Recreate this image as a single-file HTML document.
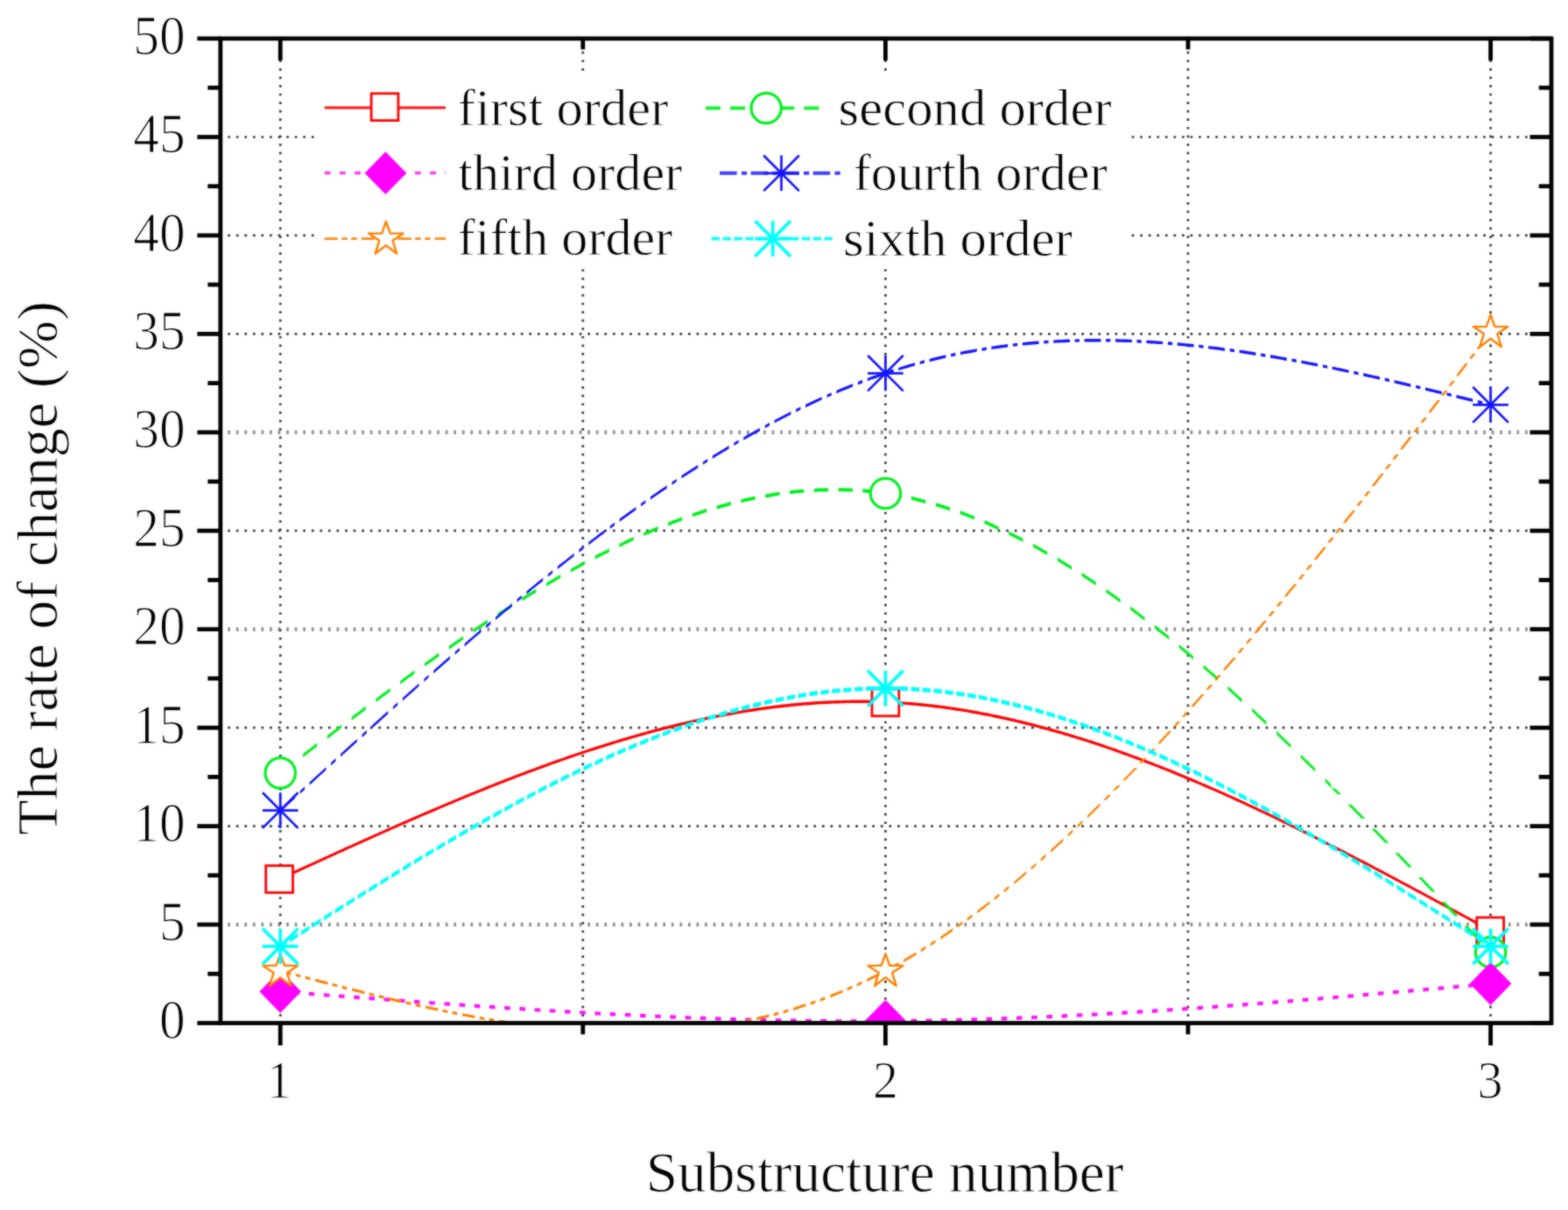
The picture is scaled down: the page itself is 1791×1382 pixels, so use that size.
<!DOCTYPE html>
<html><head><meta charset="utf-8"><title>The rate of change vs substructure number</title>
<style>
html,body{margin:0;padding:0;background:#fff;}
body{width:1791px;height:1382px;overflow:hidden;}
svg{display:block;}
text{font-family:"Liberation Serif","Times New Roman",serif;fill:#000;stroke:#fff;stroke-width:0.9px;stroke-linejoin:round;}
.tk{stroke-width:1.2px;}
</style></head><body>
<svg width="1791" height="1382" viewBox="0 0 1791 1382">
<defs><clipPath id="plot"><rect x="251.8" y="44.0" width="1520.2" height="1124.5"/></clipPath>
<filter id="soft" color-interpolation-filters="sRGB" x="0" y="0" width="1791" height="1382" filterUnits="userSpaceOnUse"><feGaussianBlur in="SourceGraphic" stdDeviation="0.9" result="b"/><feComposite in="SourceGraphic" in2="b" operator="arithmetic" k1="0" k2="0.45" k3="0.55" k4="0"/></filter></defs>
<g filter="url(#soft)">
<rect x="-10" y="-10" width="1811" height="1402" fill="#fff"/>

<g stroke="#3a3a3a" stroke-width="2.7" stroke-dasharray="2.7 6.86" fill="none">
<line x1="260.2" y1="1056.0" x2="1772.0" y2="1056.0" stroke="#8c8c8c" stroke-width="4.6"/>
<line x1="260.2" y1="943.6" x2="1772.0" y2="943.6"/>
<line x1="260.2" y1="831.2" x2="1772.0" y2="831.2"/>
<line x1="260.2" y1="718.7" x2="1772.0" y2="718.7" stroke="#8c8c8c" stroke-width="4.6"/>
<line x1="260.2" y1="606.2" x2="1772.0" y2="606.2"/>
<line x1="260.2" y1="493.8" x2="1772.0" y2="493.8" stroke="#8c8c8c" stroke-width="4.6"/>
<line x1="260.2" y1="381.4" x2="1772.0" y2="381.4"/>
<line x1="260.2" y1="268.9" x2="1772.0" y2="268.9"/>
<line x1="260.2" y1="156.5" x2="1772.0" y2="156.5"/>
<line x1="320.2" y1="49.3" x2="320.2" y2="1168.5"/>
<line x1="665.8" y1="49.3" x2="665.8" y2="1168.5"/>
<line x1="1011.4" y1="49.3" x2="1011.4" y2="1168.5"/>
<line x1="1357.0" y1="49.3" x2="1357.0" y2="1168.5"/>
<line x1="1702.6" y1="49.3" x2="1702.6" y2="1168.5"/>
</g>
<g clip-path="url(#plot)">
<path d="M320.2 1001.9L323.2 1000.6L326.2 999.2L329.2 997.8L332.2 996.4L335.2 995.0L338.2 993.7L341.2 992.3L344.2 990.9L347.2 989.5L350.3 988.2L353.3 986.8L356.3 985.4L359.3 984.0L362.3 982.7L365.3 981.3L368.3 979.9L371.3 978.5L374.3 977.2L377.3 975.8L380.3 974.4L383.3 973.1L386.3 971.7L389.3 970.3L392.3 969.0L395.3 967.6L398.3 966.2L401.3 964.9L404.3 963.5L407.4 962.2L410.4 960.8L413.4 959.5L416.4 958.1L419.4 956.8L422.4 955.4L425.4 954.1L428.4 952.7L431.4 951.4L434.4 950.0L437.4 948.7L440.4 947.4L443.4 946.0L446.4 944.7L449.4 943.4L452.4 942.0L455.4 940.7L458.4 939.4L461.4 938.1L464.5 936.8L467.5 935.4L470.5 934.1L473.5 932.8L476.5 931.5L479.5 930.2L482.5 928.9L485.5 927.6L488.5 926.3L491.5 925.1L494.5 923.8L497.5 922.5L500.5 921.2L503.5 919.9L506.5 918.7L509.5 917.4L512.5 916.1L515.5 914.9L518.5 913.6L521.5 912.4L524.6 911.1L527.6 909.9L530.6 908.6L533.6 907.4L536.6 906.1L539.6 904.9L542.6 903.7L545.6 902.5L548.6 901.2L551.6 900.0L554.6 898.8L557.6 897.6L560.6 896.4L563.6 895.2L566.6 894.0L569.6 892.8L572.6 891.7L575.6 890.5L578.6 889.3L581.7 888.2L584.7 887.0L587.7 885.8L590.7 884.7L593.7 883.5L596.7 882.4L599.7 881.3L602.7 880.1L605.7 879.0L608.7 877.9L611.7 876.8L614.7 875.7L617.7 874.6L620.7 873.5L623.7 872.4L626.7 871.3L629.7 870.2L632.7 869.1L635.7 868.1L638.8 867.0L641.8 865.9L644.8 864.9L647.8 863.8L650.8 862.8L653.8 861.8L656.8 860.7L659.8 859.7L662.8 858.7L665.8 857.7L668.8 856.7L671.8 855.7L674.8 854.7L677.8 853.8L680.8 852.8L683.8 851.8L686.8 850.9L689.8 849.9L692.8 849.0L695.9 848.0L698.9 847.1L701.9 846.2L704.9 845.2L707.9 844.3L710.9 843.4L713.9 842.5L716.9 841.7L719.9 840.8L722.9 839.9L725.9 839.0L728.9 838.2L731.9 837.3L734.9 836.5L737.9 835.7L740.9 834.8L743.9 834.0L746.9 833.2L749.9 832.4L753.0 831.6L756.0 830.8L759.0 830.1L762.0 829.3L765.0 828.5L768.0 827.8L771.0 827.0L774.0 826.3L777.0 825.6L780.0 824.9L783.0 824.2L786.0 823.5L789.0 822.8L792.0 822.1L795.0 821.4L798.0 820.7L801.0 820.1L804.0 819.4L807.0 818.8L810.1 818.2L813.1 817.6L816.1 817.0L819.1 816.4L822.1 815.8L825.1 815.2L828.1 814.6L831.1 814.1L834.1 813.5L837.1 813.0L840.1 812.4L843.1 811.9L846.1 811.4L849.1 810.9L852.1 810.4L855.1 809.9L858.1 809.5L861.1 809.0L864.1 808.5L867.1 808.1L870.2 807.7L873.2 807.3L876.2 806.8L879.2 806.4L882.2 806.1L885.2 805.7L888.2 805.3L891.2 805.0L894.2 804.6L897.2 804.3L900.2 804.0L903.2 803.6L906.2 803.3L909.2 803.0L912.2 802.8L915.2 802.5L918.2 802.2L921.2 802.0L924.2 801.8L927.3 801.5L930.3 801.3L933.3 801.1L936.3 800.9L939.3 800.8L942.3 800.6L945.3 800.5L948.3 800.3L951.3 800.2L954.3 800.1L957.3 800.0L960.3 799.9L963.3 799.8L966.3 799.7L969.3 799.7L972.3 799.6L975.3 799.6L978.3 799.6L981.3 799.6L984.4 799.6L987.4 799.6L990.4 799.6L993.4 799.7L996.4 799.7L999.4 799.8L1002.4 799.9L1005.4 800.0L1008.4 800.1L1011.4 800.2L1014.4 800.3L1017.4 800.5L1020.4 800.7L1023.4 800.8L1026.4 801.0L1029.4 801.2L1032.4 801.4L1035.4 801.7L1038.4 801.9L1041.5 802.1L1044.5 802.4L1047.5 802.7L1050.5 803.0L1053.5 803.3L1056.5 803.6L1059.5 803.9L1062.5 804.2L1065.5 804.6L1068.5 805.0L1071.5 805.3L1074.5 805.7L1077.5 806.1L1080.5 806.5L1083.5 806.9L1086.5 807.4L1089.5 807.8L1092.5 808.3L1095.5 808.7L1098.6 809.2L1101.6 809.7L1104.6 810.2L1107.6 810.7L1110.6 811.3L1113.6 811.8L1116.6 812.3L1119.6 812.9L1122.6 813.5L1125.6 814.0L1128.6 814.6L1131.6 815.2L1134.6 815.9L1137.6 816.5L1140.6 817.1L1143.6 817.8L1146.6 818.4L1149.6 819.1L1152.6 819.8L1155.7 820.4L1158.7 821.1L1161.7 821.9L1164.7 822.6L1167.7 823.3L1170.7 824.0L1173.7 824.8L1176.7 825.5L1179.7 826.3L1182.7 827.1L1185.7 827.9L1188.7 828.7L1191.7 829.5L1194.7 830.3L1197.7 831.1L1200.7 832.0L1203.7 832.8L1206.7 833.7L1209.7 834.5L1212.7 835.4L1215.8 836.3L1218.8 837.2L1221.8 838.1L1224.8 839.0L1227.8 839.9L1230.8 840.9L1233.8 841.8L1236.8 842.7L1239.8 843.7L1242.8 844.7L1245.8 845.6L1248.8 846.6L1251.8 847.6L1254.8 848.6L1257.8 849.6L1260.8 850.6L1263.8 851.7L1266.8 852.7L1269.8 853.7L1272.9 854.8L1275.9 855.8L1278.9 856.9L1281.9 858.0L1284.9 859.1L1287.9 860.2L1290.9 861.3L1293.9 862.4L1296.9 863.5L1299.9 864.6L1302.9 865.7L1305.9 866.9L1308.9 868.0L1311.9 869.2L1314.9 870.3L1317.9 871.5L1320.9 872.7L1323.9 873.8L1326.9 875.0L1330.0 876.2L1333.0 877.4L1336.0 878.6L1339.0 879.8L1342.0 881.1L1345.0 882.3L1348.0 883.5L1351.0 884.8L1354.0 886.0L1357.0 887.3L1360.0 888.5L1363.0 889.8L1366.0 891.1L1369.0 892.4L1372.0 893.7L1375.0 895.0L1378.0 896.3L1381.0 897.6L1384.0 898.9L1387.1 900.2L1390.1 901.5L1393.1 902.9L1396.1 904.2L1399.1 905.5L1402.1 906.9L1405.1 908.2L1408.1 909.6L1411.1 911.0L1414.1 912.3L1417.1 913.7L1420.1 915.1L1423.1 916.5L1426.1 917.9L1429.1 919.3L1432.1 920.7L1435.1 922.1L1438.1 923.5L1441.1 924.9L1444.2 926.4L1447.2 927.8L1450.2 929.2L1453.2 930.7L1456.2 932.1L1459.2 933.5L1462.2 935.0L1465.2 936.5L1468.2 937.9L1471.2 939.4L1474.2 940.8L1477.2 942.3L1480.2 943.8L1483.2 945.3L1486.2 946.8L1489.2 948.3L1492.2 949.8L1495.2 951.3L1498.2 952.8L1501.3 954.3L1504.3 955.8L1507.3 957.3L1510.3 958.8L1513.3 960.3L1516.3 961.9L1519.3 963.4L1522.3 964.9L1525.3 966.5L1528.3 968.0L1531.3 969.5L1534.3 971.1L1537.3 972.6L1540.3 974.2L1543.3 975.7L1546.3 977.3L1549.3 978.9L1552.3 980.4L1555.3 982.0L1558.3 983.6L1561.4 985.1L1564.4 986.7L1567.4 988.3L1570.4 989.9L1573.4 991.5L1576.4 993.0L1579.4 994.6L1582.4 996.2L1585.4 997.8L1588.4 999.4L1591.4 1001.0L1594.4 1002.6L1597.4 1004.2L1600.4 1005.8L1603.4 1007.4L1606.4 1009.0L1609.4 1010.6L1612.4 1012.2L1615.4 1013.9L1618.5 1015.5L1621.5 1017.1L1624.5 1018.7L1627.5 1020.3L1630.5 1021.9L1633.5 1023.6L1636.5 1025.2L1639.5 1026.8L1642.5 1028.4L1645.5 1030.1L1648.5 1031.7L1651.5 1033.3L1654.5 1034.9L1657.5 1036.6L1660.5 1038.2L1663.5 1039.8L1666.5 1041.5L1669.5 1043.1L1672.5 1044.7L1675.6 1046.4L1678.6 1048.0L1681.6 1049.6L1684.6 1051.3L1687.6 1052.9L1690.6 1054.5L1693.6 1056.2L1696.6 1057.8L1699.6 1059.5L1702.6 1061.1L1702.6 1064.5L1699.6 1062.9L1696.6 1061.2L1693.6 1059.6L1690.6 1057.9L1687.6 1056.3L1684.6 1054.7L1681.6 1053.0L1678.6 1051.4L1675.6 1049.8L1672.5 1048.1L1669.5 1046.5L1666.5 1044.9L1663.5 1043.2L1660.5 1041.6L1657.5 1040.0L1654.5 1038.3L1651.5 1036.7L1648.5 1035.1L1645.5 1033.5L1642.5 1031.8L1639.5 1030.2L1636.5 1028.6L1633.5 1027.0L1630.5 1025.3L1627.5 1023.7L1624.5 1022.1L1621.5 1020.5L1618.5 1018.9L1615.4 1017.3L1612.4 1015.6L1609.4 1014.0L1606.4 1012.4L1603.4 1010.8L1600.4 1009.2L1597.4 1007.6L1594.4 1006.0L1591.4 1004.4L1588.4 1002.8L1585.4 1001.2L1582.4 999.6L1579.4 998.0L1576.4 996.4L1573.4 994.9L1570.4 993.3L1567.4 991.7L1564.4 990.1L1561.4 988.5L1558.3 987.0L1555.3 985.4L1552.3 983.8L1549.3 982.3L1546.3 980.7L1543.3 979.1L1540.3 977.6L1537.3 976.0L1534.3 974.5L1531.3 972.9L1528.3 971.4L1525.3 969.9L1522.3 968.3L1519.3 966.8L1516.3 965.3L1513.3 963.7L1510.3 962.2L1507.3 960.7L1504.3 959.2L1501.3 957.7L1498.2 956.2L1495.2 954.7L1492.2 953.2L1489.2 951.7L1486.2 950.2L1483.2 948.7L1480.2 947.2L1477.2 945.7L1474.2 944.2L1471.2 942.8L1468.2 941.3L1465.2 939.9L1462.2 938.4L1459.2 936.9L1456.2 935.5L1453.2 934.1L1450.2 932.6L1447.2 931.2L1444.2 929.8L1441.1 928.3L1438.1 926.9L1435.1 925.5L1432.1 924.1L1429.1 922.7L1426.1 921.3L1423.1 919.9L1420.1 918.5L1417.1 917.1L1414.1 915.7L1411.1 914.4L1408.1 913.0L1405.1 911.6L1402.1 910.3L1399.1 908.9L1396.1 907.6L1393.1 906.3L1390.1 904.9L1387.1 903.6L1384.0 902.3L1381.0 901.0L1378.0 899.7L1375.0 898.4L1372.0 897.1L1369.0 895.8L1366.0 894.5L1363.0 893.2L1360.0 891.9L1357.0 890.7L1354.0 889.4L1351.0 888.2L1348.0 886.9L1345.0 885.7L1342.0 884.5L1339.0 883.2L1336.0 882.0L1333.0 880.8L1330.0 879.6L1326.9 878.4L1323.9 877.2L1320.9 876.1L1317.9 874.9L1314.9 873.7L1311.9 872.6L1308.9 871.4L1305.9 870.3L1302.9 869.1L1299.9 868.0L1296.9 866.9L1293.9 865.8L1290.9 864.7L1287.9 863.6L1284.9 862.5L1281.9 861.4L1278.9 860.3L1275.9 859.2L1272.9 858.2L1269.8 857.1L1266.8 856.1L1263.8 855.1L1260.8 854.0L1257.8 853.0L1254.8 852.0L1251.8 851.0L1248.8 850.0L1245.8 849.0L1242.8 848.1L1239.8 847.1L1236.8 846.1L1233.8 845.2L1230.8 844.3L1227.8 843.3L1224.8 842.4L1221.8 841.5L1218.8 840.6L1215.8 839.7L1212.7 838.8L1209.7 837.9L1206.7 837.1L1203.7 836.2L1200.7 835.4L1197.7 834.5L1194.7 833.7L1191.7 832.9L1188.7 832.1L1185.7 831.3L1182.7 830.5L1179.7 829.7L1176.7 828.9L1173.7 828.2L1170.7 827.4L1167.7 826.7L1164.7 826.0L1161.7 825.3L1158.7 824.5L1155.7 823.8L1152.6 823.2L1149.6 822.5L1146.6 821.8L1143.6 821.2L1140.6 820.5L1137.6 819.9L1134.6 819.3L1131.6 818.6L1128.6 818.0L1125.6 817.4L1122.6 816.9L1119.6 816.3L1116.6 815.7L1113.6 815.2L1110.6 814.7L1107.6 814.1L1104.6 813.6L1101.6 813.1L1098.6 812.6L1095.5 812.1L1092.5 811.7L1089.5 811.2L1086.5 810.8L1083.5 810.3L1080.5 809.9L1077.5 809.5L1074.5 809.1L1071.5 808.7L1068.5 808.4L1065.5 808.0L1062.5 807.6L1059.5 807.3L1056.5 807.0L1053.5 806.7L1050.5 806.4L1047.5 806.1L1044.5 805.8L1041.5 805.5L1038.4 805.3L1035.4 805.1L1032.4 804.8L1029.4 804.6L1026.4 804.4L1023.4 804.2L1020.4 804.1L1017.4 803.9L1014.4 803.7L1011.4 803.6L1008.4 803.5L1005.4 803.4L1002.4 803.3L999.4 803.2L996.4 803.1L993.4 803.1L990.4 803.0L987.4 803.0L984.4 803.0L981.3 803.0L978.3 803.0L975.3 803.0L972.3 803.0L969.3 803.1L966.3 803.1L963.3 803.2L960.3 803.3L957.3 803.4L954.3 803.5L951.3 803.6L948.3 803.7L945.3 803.9L942.3 804.0L939.3 804.2L936.3 804.3L933.3 804.5L930.3 804.7L927.3 804.9L924.2 805.2L921.2 805.4L918.2 805.6L915.2 805.9L912.2 806.2L909.2 806.4L906.2 806.7L903.2 807.0L900.2 807.4L897.2 807.7L894.2 808.0L891.2 808.4L888.2 808.7L885.2 809.1L882.2 809.5L879.2 809.8L876.2 810.2L873.2 810.7L870.2 811.1L867.1 811.5L864.1 811.9L861.1 812.4L858.1 812.9L855.1 813.3L852.1 813.8L849.1 814.3L846.1 814.8L843.1 815.3L840.1 815.8L837.1 816.4L834.1 816.9L831.1 817.5L828.1 818.0L825.1 818.6L822.1 819.2L819.1 819.8L816.1 820.4L813.1 821.0L810.1 821.6L807.0 822.2L804.0 822.8L801.0 823.5L798.0 824.1L795.0 824.8L792.0 825.5L789.0 826.2L786.0 826.9L783.0 827.6L780.0 828.3L777.0 829.0L774.0 829.7L771.0 830.4L768.0 831.2L765.0 831.9L762.0 832.7L759.0 833.5L756.0 834.2L753.0 835.0L749.9 835.8L746.9 836.6L743.9 837.4L740.9 838.2L737.9 839.1L734.9 839.9L731.9 840.7L728.9 841.6L725.9 842.4L722.9 843.3L719.9 844.2L716.9 845.1L713.9 845.9L710.9 846.8L707.9 847.7L704.9 848.6L701.9 849.6L698.9 850.5L695.9 851.4L692.8 852.4L689.8 853.3L686.8 854.3L683.8 855.2L680.8 856.2L677.8 857.2L674.8 858.1L671.8 859.1L668.8 860.1L665.8 861.1L662.8 862.1L659.8 863.1L656.8 864.1L653.8 865.2L650.8 866.2L647.8 867.2L644.8 868.3L641.8 869.3L638.8 870.4L635.7 871.5L632.7 872.5L629.7 873.6L626.7 874.7L623.7 875.8L620.7 876.9L617.7 878.0L614.7 879.1L611.7 880.2L608.7 881.3L605.7 882.4L602.7 883.5L599.7 884.7L596.7 885.8L593.7 886.9L590.7 888.1L587.7 889.2L584.7 890.4L581.7 891.6L578.6 892.7L575.6 893.9L572.6 895.1L569.6 896.2L566.6 897.4L563.6 898.6L560.6 899.8L557.6 901.0L554.6 902.2L551.6 903.4L548.6 904.6L545.6 905.9L542.6 907.1L539.6 908.3L536.6 909.5L533.6 910.8L530.6 912.0L527.6 913.3L524.6 914.5L521.5 915.8L518.5 917.0L515.5 918.3L512.5 919.5L509.5 920.8L506.5 922.1L503.5 923.3L500.5 924.6L497.5 925.9L494.5 927.2L491.5 928.5L488.5 929.7L485.5 931.0L482.5 932.3L479.5 933.6L476.5 934.9L473.5 936.2L470.5 937.5L467.5 938.8L464.5 940.2L461.4 941.5L458.4 942.8L455.4 944.1L452.4 945.4L449.4 946.8L446.4 948.1L443.4 949.4L440.4 950.8L437.4 952.1L434.4 953.4L431.4 954.8L428.4 956.1L425.4 957.5L422.4 958.8L419.4 960.2L416.4 961.5L413.4 962.9L410.4 964.2L407.4 965.6L404.3 966.9L401.3 968.3L398.3 969.6L395.3 971.0L392.3 972.4L389.3 973.7L386.3 975.1L383.3 976.5L380.3 977.8L377.3 979.2L374.3 980.6L371.3 981.9L368.3 983.3L365.3 984.7L362.3 986.1L359.3 987.4L356.3 988.8L353.3 990.2L350.3 991.6L347.2 992.9L344.2 994.3L341.2 995.7L338.2 997.1L335.2 998.4L332.2 999.8L329.2 1001.2L326.2 1002.6L323.2 1004.0L320.2 1005.3Z" fill="#ff0000"/>
<rect x="303.7" y="988.7" width="30.8" height="30.8" fill="#fff" stroke="#ff0000" stroke-width="2.8"/>
<rect x="996.0" y="787.0" width="30.8" height="30.8" fill="#fff" stroke="#ff0000" stroke-width="2.8"/>
<rect x="1686.8" y="1047.9" width="30.8" height="30.8" fill="#fff" stroke="#ff0000" stroke-width="2.8"/>
<path d="M320.2 880.9L323.8 878.1L327.3 875.4L330.9 872.7L334.5 869.9L334.5 873.9L330.9 876.7L327.3 879.4L323.8 882.1L320.2 884.9ZM346.0 861.1L349.3 858.6L352.5 856.1L355.8 853.6L359.0 851.1L362.3 848.6L362.3 852.6L359.0 855.1L355.8 857.6L352.5 860.1L349.3 862.6L346.0 865.1ZM373.8 839.9L377.1 837.4L380.3 834.9L383.6 832.4L386.8 829.9L390.1 827.5L390.1 831.5L386.8 833.9L383.6 836.4L380.3 838.9L377.1 841.4L373.8 843.9ZM401.6 818.8L404.9 816.3L408.1 813.9L411.4 811.4L414.6 809.0L417.9 806.5L417.9 810.5L414.6 813.0L411.4 815.4L408.1 817.9L404.9 820.3L401.6 822.8ZM429.4 797.9L432.7 795.5L435.9 793.1L439.2 790.7L442.4 788.3L445.7 785.9L445.7 789.9L442.4 792.3L439.2 794.7L435.9 797.1L432.7 799.5L429.4 801.9ZM457.2 777.4L460.5 775.0L463.7 772.7L467.0 770.3L470.2 767.9L473.5 765.6L473.5 769.6L470.2 771.9L467.0 774.3L463.7 776.7L460.5 779.0L457.2 781.4ZM485.0 757.3L488.3 755.0L491.5 752.7L494.8 750.4L498.0 748.1L501.3 745.8L501.3 749.8L498.0 752.1L494.8 754.4L491.5 756.7L488.3 759.0L485.0 761.3ZM512.8 737.7L516.1 735.4L519.3 733.2L522.6 730.9L525.8 728.7L529.1 726.5L529.1 730.5L525.8 732.7L522.6 734.9L519.3 737.2L516.1 739.4L512.8 741.7ZM540.6 718.6L543.9 716.5L547.1 714.3L550.4 712.1L553.6 709.9L556.9 707.8L556.9 711.8L553.6 713.9L550.4 716.1L547.1 718.3L543.9 720.5L540.6 722.6ZM568.4 700.3L571.7 698.1L574.9 696.0L578.2 693.9L581.4 691.9L584.7 689.8L584.7 693.8L581.4 695.9L578.2 697.9L574.9 700.0L571.7 702.1L568.4 704.3ZM596.2 682.6L599.5 680.6L602.7 678.6L606.0 676.6L609.2 674.6L612.5 672.6L612.5 676.6L609.2 678.6L606.0 680.6L602.7 682.6L599.5 684.6L596.2 686.6ZM624.0 665.7L627.3 663.8L630.5 661.9L633.8 660.0L637.0 658.1L640.3 656.3L640.3 660.3L637.0 662.1L633.8 664.0L630.5 665.9L627.3 667.8L624.0 669.7ZM651.8 649.8L655.1 648.0L658.3 646.2L661.6 644.4L664.8 642.6L668.1 640.9L668.1 644.9L664.8 646.6L661.6 648.4L658.3 650.2L655.1 652.0L651.8 653.8ZM679.6 634.8L682.9 633.1L686.1 631.5L689.4 629.8L692.6 628.2L695.9 626.5L695.9 630.5L692.6 632.2L689.4 633.8L686.1 635.5L682.9 637.1L679.6 638.8ZM707.4 620.9L710.7 619.4L713.9 617.8L717.2 616.3L720.4 614.8L723.7 613.3L723.7 617.3L720.4 618.8L717.2 620.3L713.9 621.8L710.7 623.4L707.4 624.9ZM735.2 608.2L738.5 606.8L741.7 605.4L745.0 604.0L748.2 602.6L751.5 601.3L751.5 605.3L748.2 606.6L745.0 608.0L741.7 609.4L738.5 610.8L735.2 612.2ZM763.0 596.7L766.3 595.4L769.5 594.1L772.8 592.9L776.0 591.7L779.3 590.5L779.3 594.5L776.0 595.7L772.8 596.9L769.5 598.1L766.3 599.4L763.0 600.7ZM790.8 586.4L794.1 585.3L797.3 584.2L800.6 583.2L803.8 582.1L807.1 581.1L807.1 585.1L803.8 586.1L800.6 587.2L797.3 588.2L794.1 589.3L790.8 590.4ZM818.6 577.6L821.9 576.7L825.1 575.8L828.4 574.9L831.6 574.0L834.9 573.1L834.9 577.1L831.6 578.0L828.4 578.9L825.1 579.8L821.9 580.7L818.6 581.6ZM846.4 570.3L849.7 569.5L852.9 568.8L856.2 568.1L859.4 567.4L862.7 566.7L862.7 570.7L859.4 571.4L856.2 572.1L852.9 572.8L849.7 573.5L846.4 574.3ZM874.2 564.5L877.5 563.9L880.7 563.4L884.0 562.8L887.2 562.3L890.5 561.8L890.5 565.8L887.2 566.3L884.0 566.8L880.7 567.4L877.5 567.9L874.2 568.5ZM902.0 560.3L905.3 560.0L908.5 559.6L911.8 559.3L915.0 559.0L918.3 558.7L918.3 562.7L915.0 563.0L911.8 563.3L908.5 563.6L905.3 564.0L902.0 564.3ZM929.8 557.9L933.1 557.7L936.3 557.6L939.6 557.5L942.8 557.4L946.1 557.3L946.1 561.3L942.8 561.4L939.6 561.5L936.3 561.6L933.1 561.7L929.8 561.9ZM957.6 557.3L960.9 557.3L964.1 557.4L967.4 557.5L970.6 557.6L973.9 557.8L973.9 561.8L970.6 561.6L967.4 561.5L964.1 561.4L960.9 561.3L957.6 561.3ZM985.4 558.6L988.7 558.8L991.9 559.1L995.2 559.5L998.4 559.8L1001.7 560.2L1001.7 564.2L998.4 563.8L995.2 563.5L991.9 563.1L988.7 562.8L985.4 562.6ZM1013.2 561.8L1016.5 562.3L1019.7 562.8L1023.0 563.4L1026.2 564.0L1029.5 564.6L1029.5 568.6L1026.2 568.0L1023.0 567.4L1019.7 566.8L1016.5 566.3L1013.2 565.8ZM1041.0 567.0L1044.3 567.8L1047.5 568.6L1050.8 569.4L1054.0 570.2L1057.3 571.0L1057.3 575.0L1054.0 574.2L1050.8 573.4L1047.5 572.6L1044.3 571.8L1041.0 571.0ZM1068.8 574.3L1072.1 575.2L1075.3 576.2L1078.6 577.2L1081.8 578.3L1085.1 579.4L1085.1 583.4L1081.8 582.3L1078.6 581.2L1075.3 580.2L1072.1 579.2L1068.8 578.3ZM1096.6 583.3L1099.9 584.5L1103.1 585.7L1106.4 587.0L1109.6 588.2L1112.9 589.5L1112.9 593.5L1109.6 592.2L1106.4 591.0L1103.1 589.7L1099.9 588.5L1096.6 587.3ZM1124.4 594.2L1127.7 595.6L1130.9 597.0L1134.2 598.5L1137.4 599.9L1140.7 601.4L1140.7 605.4L1137.4 603.9L1134.2 602.5L1130.9 601.0L1127.7 599.6L1124.4 598.2ZM1152.2 606.8L1155.5 608.4L1158.7 610.0L1162.0 611.7L1165.2 613.3L1168.5 615.0L1168.5 619.0L1165.2 617.3L1162.0 615.7L1158.7 614.0L1155.5 612.4L1152.2 610.8ZM1180.0 621.1L1183.3 622.8L1186.5 624.6L1189.8 626.4L1193.0 628.3L1196.3 630.1L1196.3 634.1L1193.0 632.3L1189.8 630.4L1186.5 628.6L1183.3 626.8L1180.0 625.1ZM1207.8 636.8L1211.1 638.8L1214.3 640.7L1217.6 642.7L1220.8 644.7L1224.1 646.8L1224.1 650.8L1220.8 648.7L1217.6 646.7L1214.3 644.7L1211.1 642.8L1207.8 640.8ZM1235.6 654.1L1238.9 656.2L1242.1 658.3L1245.4 660.5L1248.6 662.6L1251.9 664.8L1251.9 668.8L1248.6 666.6L1245.4 664.5L1242.1 662.3L1238.9 660.2L1235.6 658.1ZM1263.4 672.7L1266.7 675.0L1269.9 677.2L1273.2 679.5L1276.4 681.9L1279.7 684.2L1279.7 688.2L1276.4 685.9L1273.2 683.5L1269.9 681.2L1266.7 679.0L1263.4 676.7ZM1291.2 692.6L1294.5 695.0L1297.7 697.5L1301.0 699.9L1304.2 702.4L1307.5 704.9L1307.5 708.9L1304.2 706.4L1301.0 703.9L1297.7 701.5L1294.5 699.0L1291.2 696.6ZM1319.0 713.7L1322.3 716.3L1325.5 718.9L1328.8 721.5L1332.0 724.1L1335.3 726.7L1335.3 730.7L1332.0 728.1L1328.8 725.5L1325.5 722.9L1322.3 720.3L1319.0 717.7ZM1346.8 736.0L1350.1 738.7L1353.3 741.4L1356.6 744.1L1359.8 746.8L1363.1 749.6L1363.1 753.6L1359.8 750.8L1356.6 748.1L1353.3 745.4L1350.1 742.7L1346.8 740.0ZM1374.6 759.3L1377.9 762.1L1381.1 765.0L1384.4 767.8L1387.6 770.6L1390.9 773.5L1390.9 777.5L1387.6 774.6L1384.4 771.8L1381.1 769.0L1377.9 766.1L1374.6 763.3ZM1402.4 783.6L1405.7 786.6L1408.9 789.5L1412.2 792.4L1415.4 795.4L1418.7 798.3L1418.7 802.3L1415.4 799.4L1412.2 796.4L1408.9 793.5L1405.7 790.6L1402.4 787.6ZM1430.2 808.8L1433.5 811.8L1436.7 814.9L1440.0 817.9L1443.2 820.9L1446.5 824.0L1446.5 828.0L1443.2 824.9L1440.0 821.9L1436.7 818.9L1433.5 815.8L1430.2 812.8ZM1458.0 834.8L1461.3 837.9L1464.5 841.0L1467.8 844.2L1471.0 847.3L1474.3 850.4L1474.3 854.4L1471.0 851.3L1467.8 848.2L1464.5 845.0L1461.3 841.9L1458.0 838.8ZM1485.8 861.5L1489.1 864.7L1492.3 867.9L1495.6 871.1L1498.8 874.3L1502.1 877.5L1502.1 881.5L1498.8 878.3L1495.6 875.1L1492.3 871.9L1489.1 868.7L1485.8 865.5ZM1513.6 888.9L1516.9 892.2L1520.1 895.4L1521.4 900.7L1524.6 903.9L1527.9 907.2L1531.9 907.2L1528.6 903.9L1525.4 900.7L1520.1 899.4L1516.9 896.2L1513.6 892.9ZM1539.3 918.7L1542.5 921.9L1545.7 925.2L1548.9 928.5L1552.1 931.7L1555.3 935.0L1559.3 935.0L1556.1 931.7L1552.9 928.5L1549.7 925.2L1546.5 921.9L1543.3 918.7ZM1566.5 946.5L1569.7 949.7L1572.8 953.0L1576.0 956.3L1579.1 959.5L1582.3 962.8L1586.3 962.8L1583.1 959.5L1580.0 956.3L1576.8 953.0L1573.7 949.7L1570.5 946.5ZM1593.3 974.3L1596.5 977.5L1599.6 980.8L1602.7 984.1L1605.8 987.3L1609.0 990.6L1613.0 990.6L1609.8 987.3L1606.7 984.1L1603.6 980.8L1600.5 977.5L1597.3 974.3ZM1619.9 1002.1L1623.0 1005.3L1626.1 1008.6L1629.2 1011.9L1632.3 1015.1L1635.4 1018.4L1639.4 1018.4L1636.3 1015.1L1633.2 1011.9L1630.1 1008.6L1627.0 1005.3L1623.9 1002.1ZM1646.3 1029.9L1649.4 1033.1L1652.4 1036.4L1655.5 1039.7L1658.6 1042.9L1661.7 1046.2L1665.7 1046.2L1662.6 1042.9L1659.5 1039.7L1656.4 1036.4L1653.4 1033.1L1650.3 1029.9ZM1672.5 1057.7L1675.6 1060.9L1678.7 1064.2L1681.7 1067.5L1684.8 1070.7L1687.9 1074.0L1691.9 1074.0L1688.8 1070.7L1685.7 1067.5L1682.7 1064.2L1679.6 1060.9L1676.5 1057.7ZM1698.7 1085.5L1700.6 1087.5L1704.6 1087.5L1702.7 1085.5Z" fill="#00f01e"/>
<circle cx="320.2" cy="882.9" r="17.2" fill="#fff" stroke="#00f01e" stroke-width="3.2"/>
<circle cx="1011.4" cy="563.5" r="17.2" fill="#fff" stroke="#00f01e" stroke-width="3.2"/>
<circle cx="1702.6" cy="1087.5" r="17.2" fill="#fff" stroke="#00f01e" stroke-width="3.2"/>
<path d="M320.2 1130.4L324.8 1130.8L324.8 1135.0L320.2 1134.6ZM335.4 1131.6L338.7 1131.8L342.0 1132.1L342.0 1136.3L338.7 1136.0L335.4 1135.8ZM352.6 1132.9L355.9 1133.1L359.2 1133.4L359.2 1137.6L355.9 1137.3L352.6 1137.1ZM369.8 1134.2L373.1 1134.5L376.4 1134.7L376.4 1138.9L373.1 1138.7L369.8 1138.4ZM387.0 1135.5L390.3 1135.8L393.6 1136.0L393.6 1140.2L390.3 1140.0L387.0 1139.7ZM404.2 1136.8L407.5 1137.1L410.8 1137.3L410.8 1141.5L407.5 1141.3L404.2 1141.0ZM421.4 1138.1L424.7 1138.3L428.0 1138.6L428.0 1142.8L424.7 1142.5L421.4 1142.3ZM438.6 1139.4L441.9 1139.6L445.2 1139.9L445.2 1144.1L441.9 1143.8L438.6 1143.6ZM455.8 1140.6L459.1 1140.9L462.4 1141.1L462.4 1145.3L459.1 1145.1L455.8 1144.8ZM473.0 1141.9L476.3 1142.1L479.6 1142.4L479.6 1146.6L476.3 1146.3L473.0 1146.1ZM490.2 1143.1L493.5 1143.4L496.8 1143.6L496.8 1147.8L493.5 1147.6L490.2 1147.3ZM507.4 1144.4L510.7 1144.6L514.0 1144.8L514.0 1149.0L510.7 1148.8L507.4 1148.6ZM524.6 1145.6L527.9 1145.8L531.2 1146.0L531.2 1150.2L527.9 1150.0L524.6 1149.8ZM541.8 1146.7L545.1 1147.0L548.4 1147.2L548.4 1151.4L545.1 1151.2L541.8 1150.9ZM559.0 1147.9L562.3 1148.1L565.6 1148.3L565.6 1152.5L562.3 1152.3L559.0 1152.1ZM576.2 1149.0L579.5 1149.2L582.8 1149.4L582.8 1153.6L579.5 1153.4L576.2 1153.2ZM593.4 1150.1L596.7 1150.3L600.0 1150.5L600.0 1154.7L596.7 1154.5L593.4 1154.3ZM610.6 1151.2L613.9 1151.4L617.2 1151.6L617.2 1155.8L613.9 1155.6L610.6 1155.4ZM627.8 1152.3L631.1 1152.4L634.4 1152.6L634.4 1156.8L631.1 1156.6L627.8 1156.5ZM645.0 1153.3L648.3 1153.5L651.6 1153.6L651.6 1157.8L648.3 1157.7L645.0 1157.5ZM662.2 1154.3L665.5 1154.4L668.8 1154.6L668.8 1158.8L665.5 1158.6L662.2 1158.5ZM679.4 1155.2L682.7 1155.4L686.0 1155.6L686.0 1159.8L682.7 1159.6L679.4 1159.4ZM696.6 1156.1L699.9 1156.3L703.2 1156.4L703.2 1160.6L699.9 1160.5L696.6 1160.3ZM713.8 1157.0L717.1 1157.1L720.4 1157.3L720.4 1161.5L717.1 1161.3L713.8 1161.2ZM731.0 1157.8L734.3 1158.0L737.6 1158.1L737.6 1162.3L734.3 1162.2L731.0 1162.0ZM748.2 1158.6L751.5 1158.8L754.8 1158.9L754.8 1163.1L751.5 1163.0L748.2 1162.8ZM765.4 1159.3L768.7 1159.5L772.0 1159.6L772.0 1163.8L768.7 1163.7L765.4 1163.5ZM782.6 1160.0L785.9 1160.2L789.2 1160.3L789.2 1164.5L785.9 1164.4L782.6 1164.2ZM799.8 1160.7L803.1 1160.8L806.4 1160.9L806.4 1165.1L803.1 1165.0L799.8 1164.9ZM817.0 1161.3L820.3 1161.4L823.6 1161.5L823.6 1165.7L820.3 1165.6L817.0 1165.5ZM834.2 1161.9L837.5 1162.0L840.8 1162.1L840.8 1166.3L837.5 1166.2L834.2 1166.1ZM851.4 1162.4L854.7 1162.4L858.0 1162.5L858.0 1166.7L854.7 1166.6L851.4 1166.6ZM868.6 1162.8L871.9 1162.9L875.2 1163.0L875.2 1167.2L871.9 1167.1L868.6 1167.0ZM885.8 1163.2L889.1 1163.3L892.4 1163.3L892.4 1167.5L889.1 1167.5L885.8 1167.4ZM903.0 1163.5L906.3 1163.6L909.6 1163.6L909.6 1167.8L906.3 1167.8L903.0 1167.7ZM920.2 1163.8L923.5 1163.8L926.8 1163.9L926.8 1168.1L923.5 1168.0L920.2 1168.0ZM937.4 1164.0L940.7 1164.0L944.0 1164.1L944.0 1168.3L940.7 1168.2L937.4 1168.2ZM954.6 1164.1L957.9 1164.2L961.2 1164.2L961.2 1168.4L957.9 1168.4L954.6 1168.3ZM971.8 1164.2L975.1 1164.2L978.4 1164.2L978.4 1168.4L975.1 1168.4L971.8 1168.4ZM989.0 1164.2L992.3 1164.2L995.6 1164.2L995.6 1168.4L992.3 1168.4L989.0 1168.4ZM1006.2 1164.2L1009.5 1164.2L1012.8 1164.1L1012.8 1168.3L1009.5 1168.4L1006.2 1168.4ZM1023.4 1164.1L1026.7 1164.0L1030.0 1164.0L1030.0 1168.2L1026.7 1168.2L1023.4 1168.3ZM1040.6 1163.9L1043.9 1163.8L1047.2 1163.8L1047.2 1168.0L1043.9 1168.0L1040.6 1168.1ZM1057.8 1163.6L1061.1 1163.5L1064.4 1163.5L1064.4 1167.7L1061.1 1167.7L1057.8 1167.8ZM1075.0 1163.3L1078.3 1163.2L1081.6 1163.1L1081.6 1167.3L1078.3 1167.4L1075.0 1167.5ZM1092.2 1162.9L1095.5 1162.8L1098.8 1162.7L1098.8 1166.9L1095.5 1167.0L1092.2 1167.1ZM1109.4 1162.4L1112.7 1162.3L1116.0 1162.2L1116.0 1166.4L1112.7 1166.5L1109.4 1166.6ZM1126.6 1161.9L1129.9 1161.8L1133.2 1161.7L1133.2 1165.9L1129.9 1166.0L1126.6 1166.1ZM1143.8 1161.3L1147.1 1161.2L1150.4 1161.1L1150.4 1165.3L1147.1 1165.4L1143.8 1165.5ZM1161.0 1160.7L1164.3 1160.6L1167.6 1160.4L1167.6 1164.6L1164.3 1164.8L1161.0 1164.9ZM1178.2 1160.0L1181.5 1159.9L1184.8 1159.7L1184.8 1163.9L1181.5 1164.1L1178.2 1164.2ZM1195.4 1159.3L1198.7 1159.1L1202.0 1159.0L1202.0 1163.2L1198.7 1163.3L1195.4 1163.5ZM1212.6 1158.5L1215.9 1158.3L1219.2 1158.1L1219.2 1162.3L1215.9 1162.5L1212.6 1162.7ZM1229.8 1157.6L1233.1 1157.4L1236.4 1157.3L1236.4 1161.5L1233.1 1161.6L1229.8 1161.8ZM1247.0 1156.7L1250.3 1156.5L1253.6 1156.4L1253.6 1160.6L1250.3 1160.7L1247.0 1160.9ZM1264.2 1155.8L1267.5 1155.6L1270.8 1155.4L1270.8 1159.6L1267.5 1159.8L1264.2 1160.0ZM1281.4 1154.8L1284.7 1154.6L1288.0 1154.4L1288.0 1158.6L1284.7 1158.8L1281.4 1159.0ZM1298.6 1153.8L1301.9 1153.5L1305.2 1153.3L1305.2 1157.5L1301.9 1157.7L1298.6 1158.0ZM1315.8 1152.7L1319.1 1152.5L1322.4 1152.3L1322.4 1156.5L1319.1 1156.7L1315.8 1156.9ZM1333.0 1151.6L1336.3 1151.4L1339.6 1151.1L1339.6 1155.3L1336.3 1155.6L1333.0 1155.8ZM1350.2 1150.4L1353.5 1150.2L1356.8 1150.0L1356.8 1154.2L1353.5 1154.4L1350.2 1154.6ZM1367.4 1149.2L1370.7 1149.0L1374.0 1148.8L1374.0 1153.0L1370.7 1153.2L1367.4 1153.4ZM1384.6 1148.0L1387.9 1147.8L1391.2 1147.5L1391.2 1151.7L1387.9 1152.0L1384.6 1152.2ZM1401.8 1146.8L1405.1 1146.5L1408.4 1146.3L1408.4 1150.5L1405.1 1150.7L1401.8 1151.0ZM1419.0 1145.5L1422.3 1145.2L1425.6 1145.0L1425.6 1149.2L1422.3 1149.4L1419.0 1149.7ZM1436.2 1144.2L1439.5 1143.9L1442.8 1143.7L1442.8 1147.9L1439.5 1148.1L1436.2 1148.4ZM1453.4 1142.8L1456.7 1142.6L1460.0 1142.3L1460.0 1146.5L1456.7 1146.8L1453.4 1147.0ZM1470.6 1141.5L1473.9 1141.2L1477.2 1140.9L1477.2 1145.1L1473.9 1145.4L1470.6 1145.7ZM1487.8 1140.1L1491.1 1139.8L1494.4 1139.5L1494.4 1143.7L1491.1 1144.0L1487.8 1144.3ZM1505.0 1138.7L1508.3 1138.4L1511.6 1138.1L1511.6 1142.3L1508.3 1142.6L1505.0 1142.9ZM1522.2 1137.2L1525.5 1136.9L1528.8 1136.7L1528.8 1140.9L1525.5 1141.1L1522.2 1141.4ZM1539.4 1135.8L1542.7 1135.5L1546.0 1135.2L1546.0 1139.4L1542.7 1139.7L1539.4 1140.0ZM1556.6 1134.3L1559.9 1134.0L1563.2 1133.7L1563.2 1137.9L1559.9 1138.2L1556.6 1138.5ZM1573.8 1132.8L1577.1 1132.5L1580.4 1132.2L1580.4 1136.4L1577.1 1136.7L1573.8 1137.0ZM1591.0 1131.3L1594.3 1131.0L1597.6 1130.7L1597.6 1134.9L1594.3 1135.2L1591.0 1135.5ZM1608.2 1129.8L1611.5 1129.5L1614.8 1129.2L1614.8 1133.4L1611.5 1133.7L1608.2 1134.0ZM1625.4 1128.3L1628.7 1128.0L1632.0 1127.7L1632.0 1131.9L1628.7 1132.2L1625.4 1132.5ZM1642.6 1126.8L1645.9 1126.5L1649.2 1126.2L1649.2 1130.4L1645.9 1130.7L1642.6 1131.0ZM1659.8 1125.2L1663.1 1125.0L1666.4 1124.7L1666.4 1128.9L1663.1 1129.2L1659.8 1129.4ZM1677.0 1123.7L1680.3 1123.4L1683.6 1123.1L1683.6 1127.3L1680.3 1127.6L1677.0 1127.9ZM1694.2 1122.2L1697.5 1121.9L1700.8 1121.6L1700.8 1125.8L1697.5 1126.1L1694.2 1126.4Z" fill="#ff10ff"/>
<path d="M320.2 1108.1L344.0 1132.5L320.2 1156.9L296.4 1132.5Z" fill="#ff00ff"/>
<path d="M1011.4 1141.9L1035.2 1166.3L1011.4 1190.7L987.6 1166.3Z" fill="#ff00ff"/>
<path d="M1702.6 1099.1L1726.4 1123.5L1702.6 1147.9L1678.8 1123.5Z" fill="#ff00ff"/>
<path d="M320.2 923.9L323.6 920.8L326.9 917.8L330.3 914.7L333.6 911.6L337.0 908.5L337.0 911.9L333.6 915.0L330.3 918.1L326.9 921.2L323.6 924.2L320.2 927.3ZM342.7 903.3L348.0 898.5L348.0 901.9L342.7 906.7ZM353.6 893.3L356.7 890.5L359.9 887.6L363.0 884.7L366.1 881.9L369.3 879.0L372.4 876.2L372.4 879.6L369.3 882.4L366.1 885.3L363.0 888.1L359.9 891.0L356.7 893.9L353.6 896.7ZM378.1 871.0L383.4 866.1L383.4 869.5L378.1 874.4ZM389.0 861.0L392.1 858.2L395.3 855.3L398.4 852.5L401.5 849.6L404.7 846.8L407.8 843.9L407.8 847.3L404.7 850.2L401.5 853.0L398.4 855.9L395.3 858.7L392.1 861.6L389.0 864.4ZM413.5 838.8L418.8 834.0L418.8 837.4L413.5 842.2ZM424.4 828.9L427.5 826.1L430.7 823.3L433.8 820.5L436.9 817.6L440.1 814.8L443.2 812.0L443.2 815.4L440.1 818.2L436.9 821.0L433.8 823.9L430.7 826.7L427.5 829.5L424.4 832.3ZM448.9 806.9L454.2 802.1L454.2 805.5L448.9 810.3ZM459.8 797.1L462.9 794.4L466.1 791.6L469.2 788.8L472.3 786.0L475.5 783.2L478.6 780.4L478.6 783.8L475.5 786.6L472.3 789.4L469.2 792.2L466.1 795.0L462.9 797.8L459.8 800.5ZM484.3 775.4L489.6 770.7L489.6 774.1L484.3 778.8ZM495.2 765.8L498.3 763.0L501.5 760.3L504.6 757.6L507.7 754.8L510.9 752.1L514.0 749.3L514.0 752.7L510.9 755.5L507.7 758.2L504.6 761.0L501.5 763.7L498.3 766.4L495.2 769.2ZM519.7 744.4L525.0 739.8L525.0 743.2L519.7 747.8ZM530.6 735.0L533.7 732.3L536.9 729.6L540.0 726.9L543.1 724.2L546.3 721.5L549.4 718.9L549.4 722.3L546.3 724.9L543.1 727.6L540.0 730.3L536.9 733.0L533.7 735.7L530.6 738.4ZM555.1 714.0L560.4 709.5L560.4 712.9L555.1 717.4ZM566.0 704.8L569.1 702.2L572.3 699.5L575.4 696.9L578.5 694.3L581.7 691.7L584.8 689.1L584.8 692.5L581.7 695.1L578.5 697.7L575.4 700.3L572.3 702.9L569.1 705.6L566.0 708.2ZM590.5 684.3L595.8 680.0L595.8 683.4L590.5 687.7ZM601.4 675.4L604.5 672.8L607.7 670.2L610.8 667.7L613.9 665.1L617.1 662.6L620.2 660.1L620.2 663.5L617.1 666.0L613.9 668.5L610.8 671.1L607.7 673.6L604.5 676.2L601.4 678.8ZM625.9 655.5L631.2 651.2L631.2 654.6L625.9 658.9ZM636.8 646.8L639.9 644.3L643.1 641.8L646.2 639.4L649.3 636.9L652.5 634.4L655.6 632.0L655.6 635.4L652.5 637.8L649.3 640.3L646.2 642.8L643.1 645.2L639.9 647.7L636.8 650.2ZM661.3 627.6L666.6 623.5L666.6 626.9L661.3 631.0ZM672.2 619.2L675.3 616.8L678.5 614.4L681.6 612.0L684.7 609.6L687.9 607.3L691.0 604.9L691.0 608.3L687.9 610.7L684.7 613.0L681.6 615.4L678.5 617.8L675.3 620.2L672.2 622.6ZM696.7 600.7L702.0 596.8L702.0 600.2L696.7 604.1ZM707.6 592.6L710.7 590.3L713.9 588.1L717.0 585.8L720.1 583.5L723.3 581.3L726.4 579.0L726.4 582.4L723.3 584.7L720.1 586.9L717.0 589.2L713.9 591.5L710.7 593.7L707.6 596.0ZM732.1 575.0L737.4 571.2L737.4 574.6L732.1 578.4ZM743.0 567.3L746.1 565.1L749.3 562.9L752.4 560.8L755.5 558.6L758.7 556.5L761.8 554.3L761.8 557.7L758.7 559.9L755.5 562.0L752.4 564.2L749.3 566.3L746.1 568.5L743.0 570.7ZM767.5 550.5L772.8 546.9L772.8 550.3L767.5 553.9ZM778.4 543.2L781.5 541.1L784.7 539.1L787.8 537.0L790.9 535.0L794.1 533.0L797.2 531.0L797.2 534.4L794.1 536.4L790.9 538.4L787.8 540.4L784.7 542.5L781.5 544.5L778.4 546.6ZM802.9 527.4L808.2 524.0L808.2 527.4L802.9 530.8ZM813.8 520.5L816.9 518.6L820.1 516.7L823.2 514.8L826.3 512.9L829.5 511.0L832.6 509.1L832.6 512.5L829.5 514.4L826.3 516.3L823.2 518.2L820.1 520.1L816.9 522.0L813.8 523.9ZM838.3 505.7L843.6 502.6L843.6 506.0L838.3 509.1ZM849.2 499.4L852.3 497.6L855.5 495.8L858.6 494.0L861.7 492.3L864.9 490.5L868.0 488.8L868.0 492.2L864.9 493.9L861.7 495.7L858.6 497.4L855.5 499.2L852.3 501.0L849.2 502.8ZM873.7 485.7L879.0 482.8L879.0 486.2L873.7 489.1ZM884.6 479.8L887.7 478.2L890.9 476.5L894.0 474.9L897.1 473.3L900.3 471.7L903.4 470.1L903.4 473.5L900.3 475.1L897.1 476.7L894.0 478.3L890.9 479.9L887.7 481.6L884.6 483.2ZM909.1 467.3L914.4 464.7L914.4 468.1L909.1 470.7ZM920.0 462.0L923.1 460.5L926.3 459.0L929.4 457.5L932.5 456.1L935.7 454.7L938.8 453.2L938.8 456.6L935.7 458.1L932.5 459.5L929.4 460.9L926.3 462.4L923.1 463.9L920.0 465.4ZM944.5 450.7L949.8 448.4L949.8 451.8L944.5 454.1ZM955.4 446.0L958.5 444.6L961.7 443.3L964.8 442.0L967.9 440.8L971.1 439.5L974.2 438.2L974.2 441.6L971.1 442.9L967.9 444.2L964.8 445.4L961.7 446.7L958.5 448.0L955.4 449.4ZM979.9 436.0L985.2 434.0L985.2 437.4L979.9 439.4ZM990.8 431.9L993.9 430.7L997.1 429.6L1000.2 428.5L1003.3 427.4L1006.5 426.3L1009.6 425.2L1009.6 428.6L1006.5 429.7L1003.3 430.8L1000.2 431.9L997.1 433.0L993.9 434.1L990.8 435.3ZM1015.3 423.3L1020.6 421.6L1020.6 425.0L1015.3 426.7ZM1026.2 419.9L1029.3 418.9L1032.5 417.9L1035.6 417.0L1038.7 416.1L1041.9 415.2L1045.0 414.3L1045.0 417.7L1041.9 418.6L1038.7 419.5L1035.6 420.4L1032.5 421.3L1029.3 422.3L1026.2 423.3ZM1050.7 412.7L1056.0 411.3L1056.0 414.7L1050.7 416.1ZM1061.6 409.9L1064.7 409.1L1067.9 408.3L1071.0 407.6L1074.1 406.8L1077.3 406.1L1080.4 405.4L1080.4 408.8L1077.3 409.5L1074.1 410.2L1071.0 411.0L1067.9 411.7L1064.7 412.5L1061.6 413.3ZM1086.1 404.1L1091.4 403.0L1091.4 406.4L1086.1 407.5ZM1097.0 401.8L1100.1 401.2L1103.3 400.6L1106.4 400.0L1109.5 399.5L1112.7 398.9L1115.8 398.3L1115.8 401.7L1112.7 402.3L1109.5 402.9L1106.4 403.4L1103.3 404.0L1100.1 404.6L1097.0 405.2ZM1121.5 397.4L1126.8 396.5L1126.8 399.9L1121.5 400.8ZM1132.4 395.7L1135.5 395.2L1138.7 394.8L1141.8 394.3L1144.9 393.9L1148.1 393.5L1151.2 393.1L1151.2 396.5L1148.1 396.9L1144.9 397.3L1141.8 397.7L1138.7 398.2L1135.5 398.6L1132.4 399.1ZM1156.9 392.4L1162.2 391.8L1162.2 395.2L1156.9 395.8ZM1167.8 391.2L1170.9 390.9L1174.1 390.6L1177.2 390.3L1180.3 390.0L1183.5 389.8L1186.6 389.5L1186.6 392.9L1183.5 393.2L1180.3 393.4L1177.2 393.7L1174.1 394.0L1170.9 394.3L1167.8 394.6ZM1192.3 389.1L1197.6 388.7L1197.6 392.1L1192.3 392.5ZM1203.2 388.4L1206.3 388.2L1209.5 388.1L1212.6 387.9L1215.7 387.8L1218.9 387.6L1222.0 387.5L1222.0 390.9L1218.9 391.0L1215.7 391.2L1212.6 391.3L1209.5 391.5L1206.3 391.6L1203.2 391.8ZM1227.7 387.4L1233.0 387.2L1233.0 390.6L1227.7 390.8ZM1238.6 387.1L1241.7 387.1L1244.9 387.0L1248.0 387.0L1251.1 387.0L1254.3 387.0L1257.4 387.0L1257.4 390.4L1254.3 390.4L1251.1 390.4L1248.0 390.4L1244.9 390.4L1241.7 390.5L1238.6 390.5ZM1263.1 387.0L1268.4 387.1L1268.4 390.5L1263.1 390.4ZM1274.0 387.2L1277.1 387.3L1280.3 387.4L1283.4 387.5L1286.5 387.6L1289.7 387.7L1292.8 387.8L1292.8 391.2L1289.7 391.1L1286.5 391.0L1283.4 390.9L1280.3 390.8L1277.1 390.7L1274.0 390.6ZM1298.5 388.1L1303.8 388.3L1303.8 391.7L1298.5 391.5ZM1309.4 388.7L1312.5 388.8L1315.7 389.0L1318.8 389.2L1321.9 389.5L1325.1 389.7L1328.2 389.9L1328.2 393.3L1325.1 393.1L1321.9 392.9L1318.8 392.6L1315.7 392.4L1312.5 392.2L1309.4 392.1ZM1333.9 390.3L1339.2 390.8L1339.2 394.2L1333.9 393.7ZM1344.8 391.3L1347.9 391.6L1351.1 391.9L1354.2 392.2L1357.3 392.5L1360.5 392.8L1363.6 393.1L1363.6 396.5L1360.5 396.2L1357.3 395.9L1354.2 395.6L1351.1 395.3L1347.9 395.0L1344.8 394.7ZM1369.3 393.7L1374.6 394.3L1374.6 397.7L1369.3 397.1ZM1380.2 395.0L1383.3 395.4L1386.5 395.8L1389.6 396.1L1392.7 396.5L1395.9 397.0L1399.0 397.4L1399.0 400.8L1395.9 400.4L1392.7 399.9L1389.6 399.5L1386.5 399.2L1383.3 398.8L1380.2 398.4ZM1404.7 398.1L1410.0 398.9L1410.0 402.3L1404.7 401.5ZM1415.6 399.7L1418.7 400.1L1421.9 400.6L1425.0 401.1L1428.1 401.6L1431.3 402.1L1434.4 402.5L1434.4 405.9L1431.3 405.5L1428.1 405.0L1425.0 404.5L1421.9 404.0L1418.7 403.5L1415.6 403.1ZM1440.1 403.5L1445.4 404.3L1445.4 407.7L1440.1 406.9ZM1451.0 405.3L1454.1 405.8L1457.3 406.3L1460.4 406.9L1463.5 407.4L1466.7 408.0L1469.8 408.5L1469.8 411.9L1466.7 411.4L1463.5 410.8L1460.4 410.3L1457.3 409.7L1454.1 409.2L1451.0 408.7ZM1475.5 409.6L1480.8 410.5L1480.8 413.9L1475.5 413.0ZM1486.4 411.6L1489.5 412.2L1492.7 412.8L1495.8 413.4L1498.9 414.0L1502.1 414.6L1505.2 415.2L1505.2 418.6L1502.1 418.0L1498.9 417.4L1495.8 416.8L1492.7 416.2L1489.5 415.6L1486.4 415.0ZM1510.9 416.4L1516.2 417.4L1516.2 420.8L1510.9 419.8ZM1521.8 418.6L1524.9 419.2L1528.1 419.9L1531.2 420.5L1534.3 421.2L1537.5 421.9L1540.6 422.5L1540.6 425.9L1537.5 425.3L1534.3 424.6L1531.2 423.9L1528.1 423.3L1524.9 422.6L1521.8 422.0ZM1546.3 423.8L1551.6 424.9L1551.6 428.3L1546.3 427.2ZM1557.2 426.1L1560.3 426.8L1563.5 427.5L1566.6 428.2L1569.7 428.9L1572.9 429.6L1576.0 430.3L1576.0 433.7L1572.9 433.0L1569.7 432.3L1566.6 431.6L1563.5 430.9L1560.3 430.2L1557.2 429.5ZM1581.7 431.6L1587.0 432.8L1587.0 436.2L1581.7 435.0ZM1592.6 434.1L1595.7 434.9L1598.9 435.6L1602.0 436.3L1605.1 437.0L1608.3 437.8L1611.4 438.5L1611.4 441.9L1608.3 441.2L1605.1 440.4L1602.0 439.7L1598.9 439.0L1595.7 438.3L1592.6 437.5ZM1617.1 439.9L1622.4 441.1L1622.4 444.5L1617.1 443.3ZM1628.0 442.5L1631.1 443.2L1634.3 444.0L1637.4 444.7L1640.5 445.5L1643.7 446.2L1646.8 447.0L1646.8 450.4L1643.7 449.6L1640.5 448.9L1637.4 448.1L1634.3 447.4L1631.1 446.6L1628.0 445.9ZM1652.5 448.4L1657.8 449.6L1657.8 453.0L1652.5 451.8ZM1663.4 451.0L1666.5 451.8L1669.7 452.5L1672.8 453.3L1675.9 454.1L1679.1 454.8L1682.2 455.6L1682.2 459.0L1679.1 458.2L1675.9 457.5L1672.8 456.7L1669.7 455.9L1666.5 455.2L1663.4 454.4ZM1687.9 457.0L1693.2 458.3L1693.2 461.7L1687.9 460.4ZM1698.8 459.7L1702.6 460.6L1702.6 464.0L1698.8 463.1Z" fill="#1414ff"/>
<path d="M299.9 925.6H340.5M320.2 905.3V945.9M299.9 905.3L340.5 945.9M299.9 945.9L340.5 905.3" fill="none" stroke="#1414ff" stroke-width="2.7"/>
<path d="M991.1 426.3H1031.7M1011.4 406.0V446.6M991.1 406.0L1031.7 446.6M991.1 446.6L1031.7 406.0" fill="none" stroke="#1414ff" stroke-width="2.7"/>
<path d="M1682.3 462.3H1722.9M1702.6 442.0V482.6M1682.3 442.0L1722.9 482.6M1682.3 482.6L1722.9 442.0" fill="none" stroke="#1414ff" stroke-width="2.7"/>
<path d="M320.2 1107.3L323.2 1108.1L326.3 1108.9L329.3 1109.7L332.4 1110.5L332.4 1113.7L329.3 1112.9L326.3 1112.1L323.2 1111.3L320.2 1110.5ZM337.7 1111.9L343.4 1113.4L343.4 1116.6L337.7 1115.1ZM348.7 1114.8L354.4 1116.3L354.4 1119.5L348.7 1118.0ZM360.2 1117.8L363.8 1118.8L367.3 1119.7L370.9 1120.6L374.4 1121.5L374.4 1124.7L370.9 1123.8L367.3 1122.9L363.8 1122.0L360.2 1121.0ZM379.7 1122.9L385.4 1124.4L385.4 1127.6L379.7 1126.1ZM390.7 1125.7L396.4 1127.2L396.4 1130.4L390.7 1128.9ZM402.2 1128.6L405.8 1129.5L409.3 1130.4L412.9 1131.3L416.4 1132.2L416.4 1135.4L412.9 1134.5L409.3 1133.6L405.8 1132.7L402.2 1131.8ZM421.7 1133.5L427.4 1134.9L427.4 1138.1L421.7 1136.7ZM432.7 1136.2L438.4 1137.6L438.4 1140.8L432.7 1139.4ZM444.2 1139.0L447.8 1139.8L451.3 1140.7L454.8 1141.5L458.4 1142.3L458.4 1145.5L454.8 1144.7L451.3 1143.9L447.8 1143.0L444.2 1142.2ZM463.7 1143.5L469.4 1144.8L469.4 1148.0L463.7 1146.7ZM474.7 1146.0L480.4 1147.3L480.4 1150.5L474.7 1149.2ZM486.2 1148.6L489.8 1149.4L493.3 1150.1L496.8 1150.9L500.4 1151.6L500.4 1154.8L496.8 1154.1L493.3 1153.3L489.8 1152.6L486.2 1151.8ZM505.7 1152.7L511.4 1153.9L511.4 1157.1L505.7 1155.9ZM516.7 1155.0L522.4 1156.1L522.4 1159.3L516.7 1158.2ZM528.2 1157.2L531.8 1157.9L535.3 1158.6L538.8 1159.2L542.4 1159.9L542.4 1163.1L538.8 1162.4L535.3 1161.8L531.8 1161.1L528.2 1160.4ZM547.7 1160.8L553.4 1161.9L553.4 1165.1L547.7 1164.0ZM558.7 1162.8L564.4 1163.7L564.4 1166.9L558.7 1166.0ZM570.2 1164.7L573.8 1165.2L577.3 1165.8L580.8 1166.3L584.4 1166.9L584.4 1170.1L580.8 1169.5L577.3 1169.0L573.8 1168.4L570.2 1167.9ZM589.7 1167.6L595.4 1168.4L595.4 1171.6L589.7 1170.8ZM600.7 1169.1L606.4 1169.9L606.4 1173.1L600.7 1172.3ZM612.2 1170.6L615.8 1171.1L619.3 1171.5L622.8 1171.9L626.4 1172.3L626.4 1175.5L622.8 1175.1L619.3 1174.7L615.8 1174.3L612.2 1173.8ZM631.7 1172.8L637.4 1173.4L637.4 1176.6L631.7 1176.0ZM642.7 1173.9L648.4 1174.4L648.4 1177.6L642.7 1177.1ZM654.2 1174.9L657.8 1175.2L661.3 1175.4L664.8 1175.7L668.4 1175.9L668.4 1179.1L664.8 1178.9L661.3 1178.6L657.8 1178.4L654.2 1178.1ZM673.7 1176.2L679.4 1176.5L679.4 1179.7L673.7 1179.4ZM684.7 1176.8L690.4 1177.0L690.4 1180.2L684.7 1180.0ZM696.2 1177.2L699.8 1177.3L703.3 1177.4L706.8 1177.4L710.4 1177.5L710.4 1180.7L706.8 1180.6L703.3 1180.6L699.8 1180.5L696.2 1180.4ZM715.7 1177.5L721.4 1177.5L721.4 1180.7L715.7 1180.7ZM726.7 1177.5L732.4 1177.4L732.4 1180.6L726.7 1180.7ZM738.2 1177.3L741.8 1177.2L745.3 1177.1L748.8 1176.9L752.4 1176.8L752.4 1180.0L748.8 1180.1L745.3 1180.3L741.8 1180.4L738.2 1180.5ZM757.7 1176.5L763.4 1176.2L763.4 1179.4L757.7 1179.7ZM768.7 1175.8L774.4 1175.4L774.4 1178.6L768.7 1179.0ZM780.2 1174.9L783.8 1174.6L787.3 1174.3L790.8 1173.9L794.4 1173.6L794.4 1176.8L790.8 1177.1L787.3 1177.5L783.8 1177.8L780.2 1178.1ZM799.7 1173.0L805.4 1172.3L805.4 1175.5L799.7 1176.2ZM810.7 1171.6L816.4 1170.8L816.4 1174.0L810.7 1174.8ZM822.2 1169.9L825.8 1169.4L829.3 1168.8L832.9 1168.2L836.4 1167.6L836.4 1170.8L832.9 1171.4L829.3 1172.0L825.8 1172.6L822.2 1173.1ZM841.7 1166.6L847.4 1165.5L847.4 1168.7L841.7 1169.8ZM852.7 1164.4L858.4 1163.2L858.4 1166.4L852.7 1167.6ZM864.2 1161.9L867.8 1161.1L871.3 1160.3L874.9 1159.4L878.4 1158.5L878.4 1161.7L874.9 1162.6L871.3 1163.5L867.8 1164.3L864.2 1165.1ZM883.7 1157.2L889.4 1155.7L889.4 1158.9L883.7 1160.4ZM894.7 1154.2L900.4 1152.5L900.4 1155.7L894.7 1157.4ZM906.2 1150.8L909.8 1149.7L913.3 1148.6L916.9 1147.4L920.4 1146.3L920.4 1149.5L916.9 1150.6L913.3 1151.8L909.8 1152.9L906.2 1154.0ZM925.7 1144.5L931.4 1142.5L931.4 1145.7L925.7 1147.7ZM936.7 1140.6L942.4 1138.5L942.4 1141.7L936.7 1143.8ZM948.2 1136.2L951.8 1134.8L955.3 1133.4L958.9 1132.0L962.4 1130.5L962.4 1133.7L958.9 1135.2L955.3 1136.6L951.8 1138.0L948.2 1139.4ZM967.7 1128.2L973.4 1125.7L973.4 1128.9L967.7 1131.4ZM978.7 1123.4L984.4 1120.7L984.4 1123.9L978.7 1126.6ZM990.2 1118.0L993.8 1116.3L997.3 1114.5L1000.9 1112.7L1004.4 1110.9L1004.4 1114.1L1000.9 1115.9L997.3 1117.7L993.8 1119.5L990.2 1121.2ZM1009.7 1108.2L1015.4 1105.2L1015.4 1108.4L1009.7 1111.4ZM1020.7 1102.3L1026.4 1099.1L1026.4 1102.3L1020.7 1105.5ZM1032.2 1095.8L1035.8 1093.8L1039.3 1091.7L1042.9 1089.6L1046.4 1087.4L1046.4 1090.6L1042.9 1092.8L1039.3 1094.9L1035.8 1097.0L1032.2 1099.0ZM1051.7 1084.2L1057.4 1080.6L1057.4 1083.8L1051.7 1087.4ZM1062.7 1077.3L1068.4 1073.6L1068.4 1076.8L1062.7 1080.5ZM1074.2 1069.8L1077.8 1067.4L1081.3 1065.0L1084.9 1062.6L1088.4 1060.1L1088.4 1063.3L1084.9 1065.8L1081.3 1068.2L1077.8 1070.6L1074.2 1073.0ZM1093.7 1056.4L1099.4 1052.3L1099.4 1055.5L1093.7 1059.6ZM1104.7 1048.5L1110.4 1044.3L1110.4 1047.5L1104.7 1051.7ZM1116.2 1040.0L1119.8 1037.4L1123.3 1034.7L1126.9 1031.9L1130.4 1029.2L1130.4 1032.4L1126.9 1035.1L1123.3 1037.9L1119.8 1040.6L1116.2 1043.2ZM1135.7 1025.0L1141.4 1020.5L1141.4 1023.7L1135.7 1028.2ZM1146.7 1016.3L1152.4 1011.6L1152.4 1014.8L1146.7 1019.5ZM1158.2 1006.9L1161.8 1003.9L1165.3 1000.9L1168.9 997.9L1172.4 994.9L1172.4 998.1L1168.9 1001.1L1165.3 1004.1L1161.8 1007.1L1158.2 1010.1ZM1177.7 990.4L1183.4 985.4L1183.4 988.6L1177.7 993.6ZM1188.7 980.8L1194.4 975.7L1194.4 978.9L1188.7 984.0ZM1200.2 970.5L1203.8 967.3L1207.3 964.1L1210.9 960.8L1214.4 957.5L1214.4 960.7L1210.9 964.0L1207.3 967.3L1203.8 970.5L1200.2 973.7ZM1219.7 952.6L1225.4 947.3L1225.4 950.5L1219.7 955.8ZM1230.7 942.3L1236.4 936.8L1236.4 940.0L1230.7 945.5ZM1242.2 931.2L1245.8 927.8L1249.3 924.3L1252.9 920.8L1256.4 917.3L1256.4 920.5L1252.9 924.0L1249.3 927.5L1245.8 931.0L1242.2 934.4ZM1260.1 913.7L1265.8 908.0L1269.0 908.0L1263.3 913.7ZM1271.0 902.7L1276.6 897.0L1279.8 897.0L1274.2 902.7ZM1282.3 891.2L1285.7 887.6L1289.2 884.1L1292.6 880.5L1296.0 877.0L1299.2 877.0L1295.8 880.5L1292.4 884.1L1288.9 887.6L1285.5 891.2ZM1301.0 871.7L1306.4 866.0L1309.6 866.0L1304.2 871.7ZM1311.4 860.7L1316.7 855.0L1319.9 855.0L1314.6 860.7ZM1322.1 849.2L1325.3 845.6L1328.6 842.1L1331.9 838.5L1335.1 835.0L1338.3 835.0L1335.1 838.5L1331.8 842.1L1328.5 845.6L1325.3 849.2ZM1339.9 829.7L1345.1 824.0L1348.3 824.0L1343.1 829.7ZM1349.8 818.7L1354.9 813.0L1358.1 813.0L1353.0 818.7ZM1360.1 807.2L1363.2 803.6L1366.4 800.1L1369.5 796.5L1372.6 793.0L1375.8 793.0L1372.7 796.5L1369.6 800.1L1366.4 803.6L1363.3 807.2ZM1377.2 787.7L1382.2 782.0L1385.4 782.0L1380.4 787.7ZM1386.8 776.7L1391.7 771.0L1394.9 771.0L1390.0 776.7ZM1396.7 765.2L1399.7 761.6L1402.8 758.1L1405.8 754.5L1408.8 751.0L1412.0 751.0L1409.0 754.5L1406.0 758.1L1402.9 761.6L1399.9 765.2ZM1413.3 745.7L1418.1 740.0L1421.3 740.0L1416.5 745.7ZM1422.6 734.7L1427.3 729.0L1430.5 729.0L1425.8 734.7ZM1432.2 723.2L1435.1 719.6L1438.1 716.1L1441.0 712.5L1444.0 709.0L1447.2 709.0L1444.2 712.5L1441.3 716.1L1438.3 719.6L1435.4 723.2ZM1448.3 703.7L1453.0 698.0L1456.2 698.0L1451.5 703.7ZM1457.4 692.7L1462.0 687.0L1465.2 687.0L1460.6 692.7ZM1466.8 681.2L1469.6 677.6L1472.5 674.1L1475.4 670.5L1478.3 667.0L1481.5 667.0L1478.6 670.5L1475.7 674.1L1472.8 677.6L1470.0 681.2ZM1482.6 661.7L1487.1 656.0L1490.3 656.0L1485.8 661.7ZM1491.4 650.7L1496.0 645.0L1499.2 645.0L1494.6 650.7ZM1500.6 639.2L1503.4 635.6L1506.3 632.1L1509.1 628.5L1511.9 625.0L1515.1 625.0L1512.3 628.5L1509.5 632.1L1506.6 635.6L1503.8 639.2ZM1516.1 619.7L1520.6 614.0L1523.8 614.0L1519.3 619.7ZM1524.8 608.7L1529.3 603.0L1532.5 603.0L1528.0 608.7ZM1533.8 597.2L1536.6 593.6L1539.4 590.1L1542.2 586.5L1545.0 583.0L1548.2 583.0L1545.4 586.5L1542.6 590.1L1539.8 593.6L1537.0 597.2ZM1549.1 577.7L1553.5 572.0L1556.7 572.0L1552.3 577.7ZM1557.7 566.7L1562.1 561.0L1565.3 561.0L1560.9 566.7ZM1566.6 555.2L1569.3 551.6L1572.1 548.1L1574.8 544.5L1577.6 541.0L1580.8 541.0L1578.0 544.5L1575.3 548.1L1572.5 551.6L1569.8 555.2ZM1581.7 535.7L1586.1 530.0L1589.3 530.0L1584.9 535.7ZM1590.1 524.7L1594.5 519.0L1597.7 519.0L1593.3 524.7ZM1599.0 513.2L1601.7 509.6L1604.4 506.1L1607.2 502.5L1609.9 499.0L1613.1 499.0L1610.4 502.5L1607.6 506.1L1604.9 509.6L1602.2 513.2ZM1613.9 493.7L1618.3 488.0L1621.5 488.0L1617.1 493.7ZM1622.3 482.7L1626.7 477.0L1629.9 477.0L1625.5 482.7ZM1631.1 471.2L1633.8 467.6L1636.5 464.1L1639.2 460.5L1641.9 457.0L1645.1 457.0L1642.4 460.5L1639.7 464.1L1637.0 467.6L1634.3 471.2ZM1646.0 451.7L1650.3 446.0L1653.5 446.0L1649.2 451.7ZM1654.3 440.7L1658.7 435.0L1661.9 435.0L1657.5 440.7ZM1663.1 429.2L1665.7 425.6L1668.4 422.1L1671.1 418.5L1673.8 415.0L1677.0 415.0L1674.3 418.5L1671.6 422.1L1668.9 425.6L1666.3 429.2ZM1677.8 409.7L1682.2 404.0L1685.4 404.0L1681.0 409.7ZM1686.2 398.7L1690.5 393.0L1693.7 393.0L1689.4 398.7ZM1694.9 387.2L1697.9 383.1L1701.0 379.1L1704.2 379.1L1701.1 383.1L1698.1 387.2Z" fill="#ff8000"/>
<path d="M320.2 1089.3L325.0 1102.9L340.1 1102.9L327.9 1111.1L332.5 1126.0L320.2 1116.5L307.9 1126.0L312.5 1111.1L300.3 1102.9L315.4 1102.9Z" fill="#fff" stroke="#ff8000" stroke-width="2.4" stroke-linejoin="round"/>
<path d="M1011.4 1089.3L1016.2 1102.9L1031.3 1102.9L1019.1 1111.1L1023.7 1126.0L1011.4 1116.5L999.1 1126.0L1003.7 1111.1L991.5 1102.9L1006.6 1102.9Z" fill="#fff" stroke="#ff8000" stroke-width="2.4" stroke-linejoin="round"/>
<path d="M1702.6 359.5L1707.4 373.1L1722.5 373.1L1710.3 381.3L1714.9 396.2L1702.6 386.7L1690.3 396.2L1694.9 381.3L1682.7 373.1L1697.8 373.1Z" fill="#fff" stroke="#ff8000" stroke-width="2.4" stroke-linejoin="round"/>
<path d="M320.2 1078.4L323.9 1076.0L327.6 1073.7L327.6 1078.5L323.9 1080.8L320.2 1083.2ZM331.1 1071.4L334.2 1069.4L337.4 1067.4L340.5 1065.4L340.5 1070.2L337.4 1072.2L334.2 1074.2L331.1 1076.2ZM344.0 1063.2L347.1 1061.2L350.3 1059.2L353.4 1057.2L353.4 1062.0L350.3 1064.0L347.1 1066.0L344.0 1068.0ZM356.9 1054.9L360.0 1052.9L363.2 1051.0L366.3 1049.0L366.3 1053.8L363.2 1055.8L360.0 1057.7L356.9 1059.7ZM369.8 1046.7L372.9 1044.7L376.1 1042.7L379.2 1040.8L379.2 1045.6L376.1 1047.5L372.9 1049.5L369.8 1051.5ZM382.7 1038.5L385.8 1036.6L389.0 1034.6L392.1 1032.6L392.1 1037.4L389.0 1039.4L385.8 1041.4L382.7 1043.3ZM395.6 1030.4L398.7 1028.4L401.9 1026.4L405.0 1024.4L405.0 1029.2L401.9 1031.2L398.7 1033.2L395.6 1035.2ZM408.5 1022.2L411.6 1020.3L414.8 1018.3L417.9 1016.3L417.9 1021.1L414.8 1023.1L411.6 1025.1L408.5 1027.0ZM421.4 1014.1L424.5 1012.2L427.7 1010.2L430.8 1008.3L430.8 1013.1L427.7 1015.0L424.5 1017.0L421.4 1018.9ZM434.3 1006.1L437.4 1004.2L440.6 1002.2L443.7 1000.3L443.7 1005.1L440.6 1007.0L437.4 1009.0L434.3 1010.9ZM447.2 998.1L450.3 996.2L453.5 994.2L456.6 992.3L456.6 997.1L453.5 999.0L450.3 1001.0L447.2 1002.9ZM460.1 990.2L463.2 988.2L466.4 986.3L469.5 984.4L469.5 989.2L466.4 991.1L463.2 993.0L460.1 995.0ZM473.0 982.3L476.1 980.4L479.3 978.5L482.4 976.6L482.4 981.4L479.3 983.3L476.1 985.2L473.0 987.1ZM485.9 974.5L489.0 972.6L492.2 970.7L495.3 968.8L495.3 973.6L492.2 975.5L489.0 977.4L485.9 979.3ZM498.8 966.7L501.9 964.9L505.1 963.0L508.2 961.2L508.2 966.0L505.1 967.8L501.9 969.7L498.8 971.5ZM511.7 959.1L514.8 957.2L518.0 955.4L521.1 953.6L521.1 958.4L518.0 960.2L514.8 962.0L511.7 963.9ZM524.6 951.5L527.7 949.7L530.9 947.9L534.0 946.1L534.0 950.9L530.9 952.7L527.7 954.5L524.6 956.3ZM537.5 944.0L540.6 942.2L543.8 940.4L546.9 938.6L546.9 943.4L543.8 945.2L540.6 947.0L537.5 948.8ZM550.4 936.6L553.5 934.9L556.7 933.1L559.8 931.3L559.8 936.1L556.7 937.9L553.5 939.7L550.4 941.4ZM563.3 929.4L566.4 927.6L569.6 925.9L572.7 924.1L572.7 928.9L569.6 930.7L566.4 932.4L563.3 934.2ZM576.2 922.2L579.3 920.5L582.5 918.8L585.6 917.0L585.6 921.8L582.5 923.6L579.3 925.3L576.2 927.0ZM589.1 915.1L592.2 913.4L595.4 911.8L598.5 910.1L598.5 914.9L595.4 916.6L592.2 918.2L589.1 919.9ZM602.0 908.2L605.1 906.5L608.3 904.9L611.4 903.2L611.4 908.0L608.3 909.7L605.1 911.3L602.0 913.0ZM614.9 901.4L618.0 899.8L621.2 898.1L624.3 896.5L624.3 901.3L621.2 902.9L618.0 904.6L614.9 906.2ZM627.8 894.7L630.9 893.1L634.1 891.5L637.2 889.9L637.2 894.7L634.1 896.3L630.9 897.9L627.8 899.5ZM640.7 888.2L643.8 886.6L647.0 885.0L650.1 883.5L650.1 888.3L647.0 889.8L643.8 891.4L640.7 893.0ZM653.6 881.8L656.7 880.2L659.9 878.7L663.0 877.2L663.0 882.0L659.9 883.5L656.7 885.0L653.6 886.6ZM666.5 875.5L669.6 874.0L672.8 872.5L675.9 871.0L675.9 875.8L672.8 877.3L669.6 878.8L666.5 880.3ZM679.4 869.4L682.5 867.9L685.7 866.5L688.8 865.1L688.8 869.9L685.7 871.3L682.5 872.7L679.4 874.2ZM692.3 863.5L695.4 862.0L698.6 860.6L701.7 859.2L701.7 864.0L698.6 865.4L695.4 866.8L692.3 868.3ZM705.2 857.7L708.3 856.3L711.5 854.9L714.6 853.6L714.6 858.4L711.5 859.7L708.3 861.1L705.2 862.5ZM718.1 852.1L721.2 850.8L724.4 849.4L727.5 848.1L727.5 852.9L724.4 854.2L721.2 855.6L718.1 856.9ZM731.0 846.7L734.1 845.4L737.3 844.1L740.4 842.8L740.4 847.6L737.3 848.9L734.1 850.2L731.0 851.5ZM743.9 841.4L747.0 840.2L750.2 838.9L753.3 837.7L753.3 842.5L750.2 843.7L747.0 845.0L743.9 846.2ZM756.8 836.4L759.9 835.2L763.1 834.0L766.2 832.8L766.2 837.6L763.1 838.8L759.9 840.0L756.8 841.2ZM769.7 831.5L772.8 830.4L776.0 829.2L779.1 828.1L779.1 832.9L776.0 834.0L772.8 835.2L769.7 836.3ZM782.6 826.9L785.7 825.7L788.9 824.7L792.0 823.6L792.0 828.4L788.9 829.5L785.7 830.5L782.6 831.7ZM795.5 822.4L798.6 821.3L801.8 820.3L804.9 819.3L804.9 824.1L801.8 825.1L798.6 826.1L795.5 827.2ZM808.4 818.2L811.5 817.2L814.7 816.2L817.8 815.2L817.8 820.0L814.7 821.0L811.5 822.0L808.4 823.0ZM821.3 814.1L824.4 813.2L827.6 812.3L830.7 811.3L830.7 816.1L827.6 817.1L824.4 818.0L821.3 818.9ZM834.2 810.3L837.3 809.4L840.5 808.6L843.6 807.7L843.6 812.5L840.5 813.4L837.3 814.2L834.2 815.1ZM847.1 806.8L850.2 805.9L853.4 805.1L856.5 804.3L856.5 809.1L853.4 809.9L850.2 810.7L847.1 811.6ZM860.0 803.4L863.1 802.7L866.3 801.9L869.4 801.1L869.4 805.9L866.3 806.7L863.1 807.5L860.0 808.2ZM872.9 800.3L876.0 799.6L879.2 798.9L882.3 798.2L882.3 803.0L879.2 803.7L876.0 804.4L872.9 805.1ZM885.8 797.5L888.9 796.8L892.1 796.2L895.2 795.6L895.2 800.4L892.1 801.0L888.9 801.6L885.8 802.3ZM898.7 794.9L901.8 794.3L905.0 793.7L908.1 793.1L908.1 797.9L905.0 798.5L901.8 799.1L898.7 799.7ZM911.6 792.5L914.7 792.0L917.9 791.5L921.0 791.0L921.0 795.8L917.9 796.3L914.7 796.8L911.6 797.3ZM924.5 790.5L927.6 790.0L930.8 789.6L933.9 789.1L933.9 793.9L930.8 794.4L927.6 794.8L924.5 795.3ZM937.4 788.7L940.5 788.3L943.7 787.9L946.8 787.5L946.8 792.3L943.7 792.7L940.5 793.1L937.4 793.5ZM950.3 787.1L953.4 786.8L956.6 786.5L959.7 786.2L959.7 791.0L956.6 791.3L953.4 791.6L950.3 791.9ZM963.2 785.9L966.3 785.6L969.5 785.4L972.6 785.1L972.6 789.9L969.5 790.2L966.3 790.4L963.2 790.7ZM976.1 784.9L979.2 784.7L982.4 784.5L985.5 784.4L985.5 789.2L982.4 789.3L979.2 789.5L976.1 789.7ZM989.0 784.2L992.1 784.1L995.3 784.0L998.4 783.9L998.4 788.7L995.3 788.8L992.1 788.9L989.0 789.0ZM1001.9 783.9L1005.0 783.8L1008.2 783.8L1011.3 783.8L1011.3 788.6L1008.2 788.6L1005.0 788.6L1001.9 788.7ZM1014.8 783.8L1017.9 783.8L1021.1 783.9L1024.2 783.9L1024.2 788.7L1021.1 788.7L1017.9 788.6L1014.8 788.6ZM1027.7 784.0L1030.8 784.1L1034.0 784.2L1037.1 784.4L1037.1 789.2L1034.0 789.0L1030.8 788.9L1027.7 788.8ZM1040.6 784.5L1043.7 784.7L1046.9 784.9L1050.0 785.1L1050.0 789.9L1046.9 789.7L1043.7 789.5L1040.6 789.3ZM1053.5 785.4L1056.6 785.6L1059.8 785.9L1062.9 786.2L1062.9 791.0L1059.8 790.7L1056.6 790.4L1053.5 790.2ZM1066.4 786.5L1069.5 786.8L1072.7 787.1L1075.8 787.5L1075.8 792.3L1072.7 791.9L1069.5 791.6L1066.4 791.3ZM1079.3 787.9L1082.4 788.3L1085.6 788.7L1088.7 789.1L1088.7 793.9L1085.6 793.5L1082.4 793.1L1079.3 792.7ZM1092.2 789.6L1095.3 790.0L1098.5 790.5L1101.6 791.0L1101.6 795.8L1098.5 795.3L1095.3 794.8L1092.2 794.4ZM1105.1 791.5L1108.2 792.0L1111.4 792.6L1114.5 793.1L1114.5 797.9L1111.4 797.4L1108.2 796.8L1105.1 796.3ZM1118.0 793.7L1121.1 794.3L1124.3 794.9L1127.4 795.5L1127.4 800.3L1124.3 799.7L1121.1 799.1L1118.0 798.5ZM1130.9 796.2L1134.0 796.9L1137.2 797.5L1140.3 798.2L1140.3 803.0L1137.2 802.3L1134.0 801.7L1130.9 801.0ZM1143.8 798.9L1146.9 799.7L1150.1 800.4L1153.2 801.1L1153.2 805.9L1150.1 805.2L1146.9 804.5L1143.8 803.7ZM1156.7 801.9L1159.8 802.7L1163.0 803.5L1166.1 804.3L1166.1 809.1L1163.0 808.3L1159.8 807.5L1156.7 806.7ZM1169.6 805.2L1172.7 806.0L1175.9 806.8L1179.0 807.7L1179.0 812.5L1175.9 811.6L1172.7 810.8L1169.6 810.0ZM1182.5 808.6L1185.6 809.5L1188.8 810.4L1191.9 811.3L1191.9 816.1L1188.8 815.2L1185.6 814.3L1182.5 813.4ZM1195.4 812.3L1198.5 813.2L1201.7 814.2L1204.8 815.1L1204.8 819.9L1201.7 819.0L1198.5 818.0L1195.4 817.1ZM1208.3 816.2L1211.4 817.2L1214.6 818.2L1217.7 819.2L1217.7 824.0L1214.6 823.0L1211.4 822.0L1208.3 821.0ZM1221.2 820.4L1224.3 821.4L1227.5 822.5L1230.6 823.5L1230.6 828.3L1227.5 827.3L1224.3 826.2L1221.2 825.2ZM1234.1 824.7L1237.2 825.8L1240.4 826.9L1243.5 828.0L1243.5 832.8L1240.4 831.7L1237.2 830.6L1234.1 829.5ZM1247.0 829.3L1250.1 830.4L1253.3 831.6L1256.4 832.7L1256.4 837.5L1253.3 836.4L1250.1 835.2L1247.0 834.1ZM1259.9 834.0L1263.0 835.2L1266.2 836.4L1269.3 837.6L1269.3 842.4L1266.2 841.2L1263.0 840.0L1259.9 838.8ZM1272.8 839.0L1275.9 840.2L1279.1 841.5L1282.2 842.7L1282.2 847.5L1279.1 846.3L1275.9 845.0L1272.8 843.8ZM1285.7 844.2L1288.8 845.4L1292.0 846.7L1295.1 848.0L1295.1 852.8L1292.0 851.5L1288.8 850.2L1285.7 849.0ZM1298.6 849.5L1301.7 850.8L1304.9 852.2L1308.0 853.5L1308.0 858.3L1304.9 857.0L1301.7 855.6L1298.6 854.3ZM1311.5 855.0L1314.6 856.4L1317.8 857.8L1320.9 859.2L1320.9 864.0L1317.8 862.6L1314.6 861.2L1311.5 859.8ZM1324.4 860.7L1327.5 862.1L1330.7 863.5L1333.8 865.0L1333.8 869.8L1330.7 868.3L1327.5 866.9L1324.4 865.5ZM1337.3 866.6L1340.4 868.0L1343.6 869.5L1346.7 870.9L1346.7 875.7L1343.6 874.3L1340.4 872.8L1337.3 871.4ZM1350.2 872.6L1353.3 874.1L1356.5 875.6L1359.6 877.1L1359.6 881.9L1356.5 880.4L1353.3 878.9L1350.2 877.4ZM1363.1 878.8L1366.2 880.3L1369.4 881.8L1372.5 883.4L1372.5 888.2L1369.4 886.6L1366.2 885.1L1363.1 883.6ZM1376.0 885.1L1379.1 886.7L1382.3 888.2L1385.4 889.8L1385.4 894.6L1382.3 893.0L1379.1 891.5L1376.0 889.9ZM1388.9 891.6L1392.0 893.2L1395.2 894.8L1398.3 896.4L1398.3 901.2L1395.2 899.6L1392.0 898.0L1388.9 896.4ZM1401.8 898.2L1404.9 899.8L1408.1 901.5L1411.2 903.1L1411.2 907.9L1408.1 906.3L1404.9 904.6L1401.8 903.0ZM1414.7 905.0L1417.8 906.6L1421.0 908.3L1424.1 910.0L1424.1 914.8L1421.0 913.1L1417.8 911.4L1414.7 909.8ZM1427.6 911.8L1430.7 913.5L1433.9 915.2L1437.0 916.9L1437.0 921.7L1433.9 920.0L1430.7 918.3L1427.6 916.6ZM1440.5 918.8L1443.6 920.6L1446.8 922.3L1449.9 924.0L1449.9 928.8L1446.8 927.1L1443.6 925.4L1440.5 923.6ZM1453.4 926.0L1456.5 927.7L1459.7 929.5L1462.8 931.2L1462.8 936.0L1459.7 934.3L1456.5 932.5L1453.4 930.8ZM1466.3 933.2L1469.4 935.0L1472.6 936.7L1475.7 938.5L1475.7 943.3L1472.6 941.5L1469.4 939.8L1466.3 938.0ZM1479.2 940.5L1482.3 942.3L1485.5 944.1L1488.6 945.9L1488.6 950.7L1485.5 948.9L1482.3 947.1L1479.2 945.3ZM1492.1 948.0L1495.2 949.8L1498.4 951.6L1501.5 953.4L1501.5 958.2L1498.4 956.4L1495.2 954.6L1492.1 952.8ZM1505.0 955.5L1508.1 957.3L1511.3 959.2L1514.4 961.0L1514.4 965.8L1511.3 964.0L1508.1 962.1L1505.0 960.3ZM1517.9 963.1L1521.0 965.0L1524.2 966.8L1527.3 968.7L1527.3 973.5L1524.2 971.6L1521.0 969.8L1517.9 967.9ZM1530.8 970.8L1533.9 972.7L1537.1 974.6L1540.2 976.5L1540.2 981.3L1537.1 979.4L1533.9 977.5L1530.8 975.6ZM1543.7 978.6L1546.8 980.5L1550.0 982.4L1553.1 984.3L1553.1 989.1L1550.0 987.2L1546.8 985.3L1543.7 983.4ZM1556.6 986.4L1559.7 988.3L1562.9 990.3L1566.0 992.2L1566.0 997.0L1562.9 995.1L1559.7 993.1L1556.6 991.2ZM1569.5 994.3L1572.6 996.3L1575.8 998.2L1578.9 1000.1L1578.9 1004.9L1575.8 1003.0L1572.6 1001.1L1569.5 999.1ZM1582.4 1002.3L1585.5 1004.3L1588.7 1006.2L1591.8 1008.2L1591.8 1013.0L1588.7 1011.0L1585.5 1009.1L1582.4 1007.1ZM1595.3 1010.3L1598.4 1012.3L1601.6 1014.3L1604.7 1016.2L1604.7 1021.0L1601.6 1019.1L1598.4 1017.1L1595.3 1015.1ZM1608.2 1018.4L1611.3 1020.4L1614.5 1022.3L1617.6 1024.3L1617.6 1029.1L1614.5 1027.1L1611.3 1025.2L1608.2 1023.2ZM1621.1 1026.5L1624.2 1028.5L1627.4 1030.5L1630.5 1032.5L1630.5 1037.3L1627.4 1035.3L1624.2 1033.3L1621.1 1031.3ZM1634.0 1034.7L1637.1 1036.7L1640.3 1038.6L1643.4 1040.6L1643.4 1045.4L1640.3 1043.4L1637.1 1041.5L1634.0 1039.5ZM1646.9 1042.9L1650.0 1044.8L1653.2 1046.8L1656.3 1048.8L1656.3 1053.6L1653.2 1051.6L1650.0 1049.6L1646.9 1047.7ZM1659.8 1051.1L1662.9 1053.1L1666.1 1055.1L1669.2 1057.1L1669.2 1061.9L1666.1 1059.9L1662.9 1057.9L1659.8 1055.9ZM1672.7 1059.3L1675.8 1061.3L1679.0 1063.3L1682.1 1065.3L1682.1 1070.1L1679.0 1068.1L1675.8 1066.1L1672.7 1064.1ZM1685.6 1067.5L1688.7 1069.5L1691.9 1071.5L1695.0 1073.5L1695.0 1078.3L1691.9 1076.3L1688.7 1074.3L1685.6 1072.3ZM1698.5 1075.8L1702.6 1078.4L1702.6 1083.2L1698.5 1080.6Z" fill="#00ffff"/>
<path d="M299.9 1080.8H340.5M320.2 1060.5V1101.1M299.9 1060.5L340.5 1101.1M299.9 1101.1L340.5 1060.5" fill="none" stroke="#00ffff" stroke-width="3.7"/>
<path d="M991.1 786.2H1031.7M1011.4 765.9V806.5M991.1 765.9L1031.7 806.5M991.1 806.5L1031.7 765.9" fill="none" stroke="#00ffff" stroke-width="3.7"/>
<path d="M1682.3 1080.8H1722.9M1702.6 1060.5V1101.1M1682.3 1060.5L1722.9 1101.1M1682.3 1101.1L1722.9 1060.5" fill="none" stroke="#00ffff" stroke-width="3.7"/>
</g>
<rect x="362" y="84" width="926" height="220" fill="#fff"/>
<line x1="370.7" y1="123.0" x2="509.0" y2="123.0" stroke="#ff1010" stroke-width="3.0"/>
<rect x="424.1" y="106.8" width="30.8" height="30.8" fill="#fff" stroke="#ff0000" stroke-width="2.8"/>
<text transform="translate(522.78 142.60) scale(1.0100 1)" font-size="60">first order</text>
<line x1="806.1" y1="123.5" x2="935.7" y2="123.5" stroke="#10f230" stroke-width="4.0" stroke-dasharray="16.8 11.3"/>
<circle cx="875.2" cy="123.5" r="17.2" fill="#fff" stroke="#00f01e" stroke-width="3.2"/>
<text transform="translate(957.57 143.00) scale(1.0128 1)" font-size="60">second order</text>
<line x1="370.7" y1="197.5" x2="509.0" y2="197.5" stroke="#ff38ff" stroke-width="3.7" stroke-dasharray="6.8 10.4"/>
<path d="M440.4 173.3L464.2 197.7L440.4 222.1L416.6 197.7Z" fill="#ff00ff"/>
<text transform="translate(523.20 216.70) scale(1.0047 1)" font-size="60">third order</text>
<line x1="822.1" y1="197.8" x2="960.3" y2="197.8" stroke="#3c3cff" stroke-width="3.9" stroke-dasharray="19.6 5.3 6.2 4.4"/>
<path d="M872.2 197.8H912.8M892.5 177.5V218.1M872.2 177.5L912.8 218.1M872.2 218.1L912.8 177.5" fill="none" stroke="#1414ff" stroke-width="2.7"/>
<text transform="translate(974.69 216.90) scale(1.0066 1)" font-size="60">fourth order</text>
<line x1="370.7" y1="272.6" x2="509.0" y2="272.6" stroke="#ff8a14" stroke-width="2.8" stroke-dasharray="15 4.5 6.5 4.5 6.5 5"/>
<path d="M440.9 253.0L445.7 266.6L460.8 266.6L448.6 274.8L453.2 289.7L440.9 280.2L428.6 289.7L433.2 274.8L421.0 266.6L436.1 266.6Z" fill="#fff" stroke="#ff8000" stroke-width="2.4" stroke-linejoin="round"/>
<text transform="translate(522.80 291.20) scale(1.0023 1)" font-size="60">fifth order</text>
<line x1="812.6" y1="272.6" x2="950.8" y2="272.6" stroke="#10ffff" stroke-width="3.9" stroke-dasharray="9.5 3.4"/>
<path d="M862.4 272.6H903.0M882.7 252.3V292.9M862.4 252.3L903.0 292.9M862.4 292.9L903.0 252.3" fill="none" stroke="#00ffff" stroke-width="3.7"/>
<text transform="translate(962.96 291.80) scale(1.0151 1)" font-size="60">sixth order</text>
<g stroke="#000" stroke-width="4.8" fill="none" stroke-linecap="butt">
<rect x="251.8" y="44.0" width="1520.2" height="1124.5"/>
<line x1="225.3" y1="1168.5" x2="251.8" y2="1168.5"/>
<line x1="1747.5" y1="1168.5" x2="1772.0" y2="1168.5"/>
<line x1="237.3" y1="1112.3" x2="251.8" y2="1112.3"/>
<line x1="1757.7" y1="1112.3" x2="1772.0" y2="1112.3"/>
<line x1="225.3" y1="1056.0" x2="251.8" y2="1056.0"/>
<line x1="1747.5" y1="1056.0" x2="1772.0" y2="1056.0"/>
<line x1="237.3" y1="999.8" x2="251.8" y2="999.8"/>
<line x1="1757.7" y1="999.8" x2="1772.0" y2="999.8"/>
<line x1="225.3" y1="943.6" x2="251.8" y2="943.6"/>
<line x1="1747.5" y1="943.6" x2="1772.0" y2="943.6"/>
<line x1="237.3" y1="887.4" x2="251.8" y2="887.4"/>
<line x1="1757.7" y1="887.4" x2="1772.0" y2="887.4"/>
<line x1="225.3" y1="831.2" x2="251.8" y2="831.2"/>
<line x1="1747.5" y1="831.2" x2="1772.0" y2="831.2"/>
<line x1="237.3" y1="774.9" x2="251.8" y2="774.9"/>
<line x1="1757.7" y1="774.9" x2="1772.0" y2="774.9"/>
<line x1="225.3" y1="718.7" x2="251.8" y2="718.7"/>
<line x1="1747.5" y1="718.7" x2="1772.0" y2="718.7"/>
<line x1="237.3" y1="662.5" x2="251.8" y2="662.5"/>
<line x1="1757.7" y1="662.5" x2="1772.0" y2="662.5"/>
<line x1="225.3" y1="606.2" x2="251.8" y2="606.2"/>
<line x1="1747.5" y1="606.2" x2="1772.0" y2="606.2"/>
<line x1="237.3" y1="550.0" x2="251.8" y2="550.0"/>
<line x1="1757.7" y1="550.0" x2="1772.0" y2="550.0"/>
<line x1="225.3" y1="493.8" x2="251.8" y2="493.8"/>
<line x1="1747.5" y1="493.8" x2="1772.0" y2="493.8"/>
<line x1="237.3" y1="437.6" x2="251.8" y2="437.6"/>
<line x1="1757.7" y1="437.6" x2="1772.0" y2="437.6"/>
<line x1="225.3" y1="381.4" x2="251.8" y2="381.4"/>
<line x1="1747.5" y1="381.4" x2="1772.0" y2="381.4"/>
<line x1="237.3" y1="325.1" x2="251.8" y2="325.1"/>
<line x1="1757.7" y1="325.1" x2="1772.0" y2="325.1"/>
<line x1="225.3" y1="268.9" x2="251.8" y2="268.9"/>
<line x1="1747.5" y1="268.9" x2="1772.0" y2="268.9"/>
<line x1="237.3" y1="212.7" x2="251.8" y2="212.7"/>
<line x1="1757.7" y1="212.7" x2="1772.0" y2="212.7"/>
<line x1="225.3" y1="156.5" x2="251.8" y2="156.5"/>
<line x1="1747.5" y1="156.5" x2="1772.0" y2="156.5"/>
<line x1="237.3" y1="100.2" x2="251.8" y2="100.2"/>
<line x1="1757.7" y1="100.2" x2="1772.0" y2="100.2"/>
<line x1="225.3" y1="44.0" x2="251.8" y2="44.0"/>
<line x1="1747.5" y1="44.0" x2="1772.0" y2="44.0"/>
<line x1="320.2" y1="44.0" x2="320.2" y2="69.0"/>
<line x1="320.2" y1="1168.5" x2="320.2" y2="1194.0"/>
<line x1="665.8" y1="44.0" x2="665.8" y2="56.4"/>
<line x1="665.8" y1="1168.5" x2="665.8" y2="1181.4"/>
<line x1="1011.4" y1="44.0" x2="1011.4" y2="69.0"/>
<line x1="1011.4" y1="1168.5" x2="1011.4" y2="1194.0"/>
<line x1="1357.0" y1="44.0" x2="1357.0" y2="56.4"/>
<line x1="1357.0" y1="1168.5" x2="1357.0" y2="1181.4"/>
<line x1="1702.6" y1="44.0" x2="1702.6" y2="69.0"/>
<line x1="1702.6" y1="1168.5" x2="1702.6" y2="1194.0"/>
</g>
<text transform="translate(181.89 1186.10) scale(0.9400 1)" font-size="63" class="tk">0</text>
<text transform="translate(181.89 1073.65) scale(0.9400 1)" font-size="63" class="tk">5</text>
<text transform="translate(152.28 961.20) scale(0.9400 1)" font-size="63" class="tk">10</text>
<text transform="translate(152.28 848.75) scale(0.9400 1)" font-size="63" class="tk">15</text>
<text transform="translate(152.28 736.30) scale(0.9400 1)" font-size="63" class="tk">20</text>
<text transform="translate(152.28 623.85) scale(0.9400 1)" font-size="63" class="tk">25</text>
<text transform="translate(152.28 511.40) scale(0.9400 1)" font-size="63" class="tk">30</text>
<text transform="translate(152.28 398.95) scale(0.9400 1)" font-size="63" class="tk">35</text>
<text transform="translate(152.28 286.50) scale(0.9400 1)" font-size="63" class="tk">40</text>
<text transform="translate(152.28 174.05) scale(0.9400 1)" font-size="63" class="tk">45</text>
<text transform="translate(152.28 61.60) scale(0.9400 1)" font-size="63" class="tk">50</text>
<text transform="translate(304.62 1253.50) scale(0.9500 1)" font-size="61" class="tk">1</text>
<text transform="translate(996.90 1253.50) scale(0.9500 1)" font-size="61" class="tk">2</text>
<text transform="translate(1687.60 1253.50) scale(0.9500 1)" font-size="61" class="tk">3</text>
<text transform="translate(737.69 1361.00) scale(1.0000 1)" font-size="65.3">Substructure number</text>
<text transform="translate(64.5 954.0) rotate(-90)" font-size="66.2">The rate of change (%)</text>
</g></svg></body></html>
